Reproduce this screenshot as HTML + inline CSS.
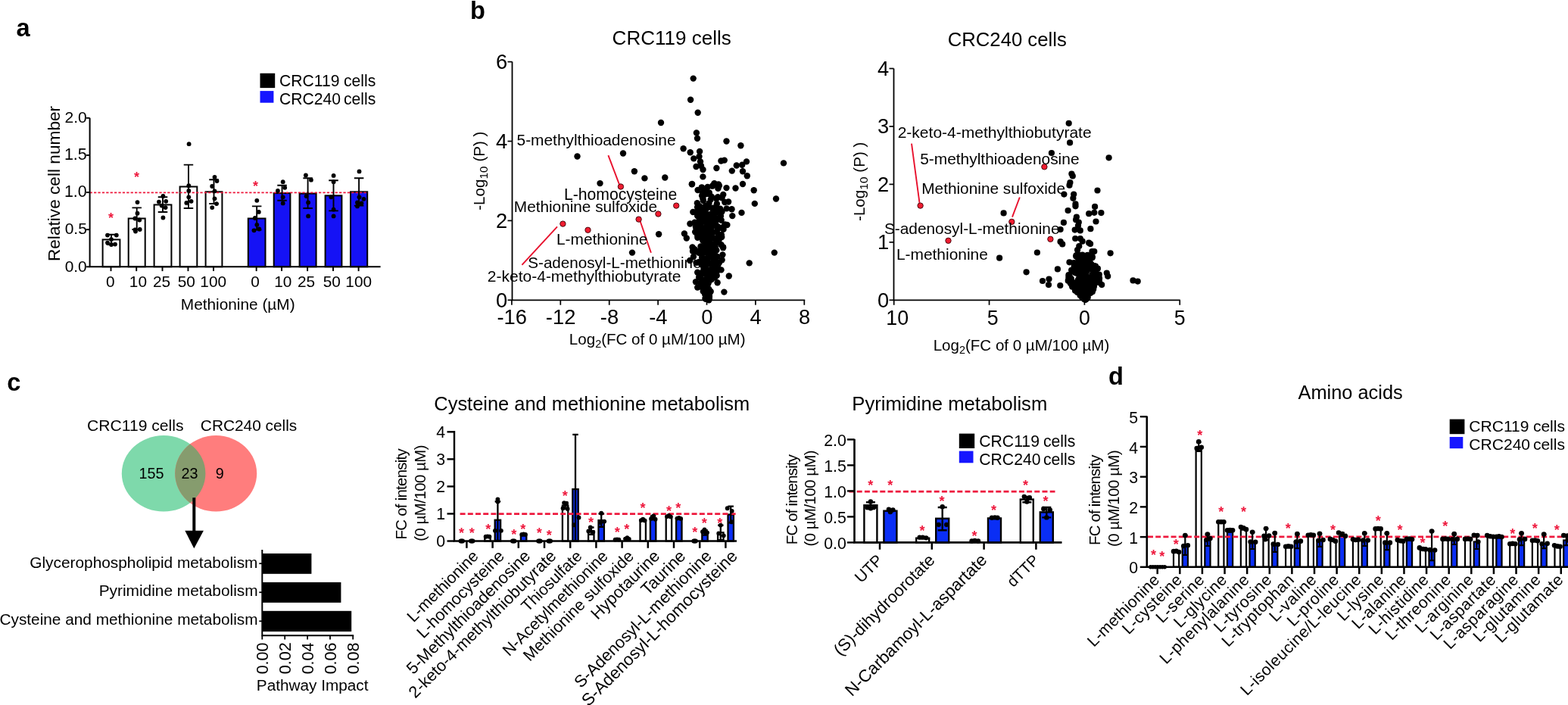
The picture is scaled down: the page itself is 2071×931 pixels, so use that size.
<!DOCTYPE html>
<html lang="en">
<head>
<meta charset="utf-8">
<title>Methionine restriction figure</title>
<style>
html,body{margin:0;padding:0;background:#fff;}
body{width:2071px;height:931px;overflow:hidden;}
svg{display:block;font-family:"Liberation Sans",Arial,Helvetica,sans-serif;}
</style>
</head>
<body>
<svg width="2071" height="931" viewBox="0 0 2071 931">
<rect width="2071" height="931" fill="#fff"/>
<text x="21.62" y="47.9" font-size="32.6" font-weight="bold">a</text>
<text x="620.88" y="24.6" font-size="32.6" font-weight="bold">b</text>
<text x="9.3" y="515.8" font-size="32.6" font-weight="bold">c</text>
<text x="1463.9" y="508.3" font-size="32.6" font-weight="bold">d</text>
<rect x="135.6" y="316.4" width="22.8" height="35.9" fill="#fff" stroke="#000" stroke-width="2"/>
<rect x="169.7" y="288.5" width="22" height="63.8" fill="#fff" stroke="#000" stroke-width="2"/>
<rect x="203.6" y="270.4" width="22.8" height="81.9" fill="#fff" stroke="#000" stroke-width="2"/>
<rect x="237.6" y="246.5" width="22.7" height="105.8" fill="#fff" stroke="#000" stroke-width="2"/>
<rect x="271.6" y="253.3" width="21.8" height="99" fill="#fff" stroke="#000" stroke-width="2"/>
<rect x="327.8" y="288.5" width="22.7" height="63.8" fill="#1512f5" stroke="#000" stroke-width="2"/>
<rect x="361.7" y="255.1" width="21.7" height="97.2" fill="#1512f5" stroke="#000" stroke-width="2"/>
<rect x="395.6" y="255.6" width="22" height="96.7" fill="#1512f5" stroke="#000" stroke-width="2"/>
<rect x="429.6" y="258.3" width="21.8" height="94" fill="#1512f5" stroke="#000" stroke-width="2"/>
<rect x="463" y="253.3" width="22.2" height="99" fill="#1512f5" stroke="#000" stroke-width="2"/>
<line x1="118.6" y1="254.4" x2="486" y2="254.4" stroke="#ee1a3e" stroke-width="1.9" stroke-dasharray="3.3 2.1"/>
<path d="M147 309.8V323M140.75 309.8H153.25M140.75 323H153.25" stroke="#000" stroke-width="1.9" fill="none"/>
<circle cx="142" cy="310.6" r="2.9" fill="#000"/>
<circle cx="153.8" cy="310.6" r="2.9" fill="#000"/>
<circle cx="147" cy="316.1" r="2.9" fill="#000"/>
<circle cx="142" cy="320.6" r="2.9" fill="#000"/>
<circle cx="152" cy="322.6" r="2.9" fill="#000"/>
<circle cx="147" cy="323" r="2.9" fill="#000"/>
<path d="M180.7 274.4V303M174.45 274.4H186.95M174.45 303H186.95" stroke="#000" stroke-width="1.9" fill="none"/>
<circle cx="181.5" cy="267.1" r="2.9" fill="#000"/>
<circle cx="181.5" cy="281.7" r="2.9" fill="#000"/>
<circle cx="178.4" cy="288.5" r="2.9" fill="#000"/>
<circle cx="184.2" cy="290.5" r="2.9" fill="#000"/>
<circle cx="178.4" cy="303.5" r="2.9" fill="#000"/>
<circle cx="184.7" cy="303" r="2.9" fill="#000"/>
<circle cx="179" cy="305.6" r="2.9" fill="#000"/>
<path d="M215 260.3V280M208.75 260.3H221.25M208.75 280H221.25" stroke="#000" stroke-width="1.9" fill="none"/>
<circle cx="215.4" cy="259" r="2.9" fill="#000"/>
<circle cx="209.9" cy="266.6" r="2.9" fill="#000"/>
<circle cx="219.2" cy="265.8" r="2.9" fill="#000"/>
<circle cx="213.6" cy="271.6" r="2.9" fill="#000"/>
<circle cx="218.6" cy="274.1" r="2.9" fill="#000"/>
<circle cx="215.4" cy="287.5" r="2.9" fill="#000"/>
<path d="M248.95 217.6V275M242.7 217.6H255.2M242.7 275H255.2" stroke="#000" stroke-width="1.9" fill="none"/>
<circle cx="249.6" cy="190.2" r="2.9" fill="#000"/>
<circle cx="249.3" cy="245.2" r="2.9" fill="#000"/>
<circle cx="249.3" cy="252" r="2.9" fill="#000"/>
<circle cx="249.3" cy="260.3" r="2.9" fill="#000"/>
<circle cx="246.3" cy="267.9" r="2.9" fill="#000"/>
<circle cx="252.6" cy="265.8" r="2.9" fill="#000"/>
<path d="M282.5 237.2V269M276.25 237.2H288.75M276.25 269H288.75" stroke="#000" stroke-width="1.9" fill="none"/>
<circle cx="283.5" cy="233.9" r="2.9" fill="#000"/>
<circle cx="286.5" cy="239" r="2.9" fill="#000"/>
<circle cx="280.2" cy="246" r="2.9" fill="#000"/>
<circle cx="283.5" cy="252.3" r="2.9" fill="#000"/>
<circle cx="283.5" cy="262.3" r="2.9" fill="#000"/>
<circle cx="286" cy="269.1" r="2.9" fill="#000"/>
<circle cx="280.2" cy="274.1" r="2.9" fill="#000"/>
<path d="M339.15 272.4V303.5M332.9 272.4H345.4M332.9 303.5H345.4" stroke="#000" stroke-width="1.9" fill="none"/>
<circle cx="339.3" cy="264.8" r="2.9" fill="#000"/>
<circle cx="341.8" cy="279.9" r="2.9" fill="#000"/>
<circle cx="336.8" cy="288" r="2.9" fill="#000"/>
<circle cx="339.3" cy="296.8" r="2.9" fill="#000"/>
<circle cx="335.5" cy="304.3" r="2.9" fill="#000"/>
<circle cx="342.3" cy="302.5" r="2.9" fill="#000"/>
<path d="M372.55 244.7V264.8M366.3 244.7H378.8M366.3 264.8H378.8" stroke="#000" stroke-width="1.9" fill="none"/>
<circle cx="373.7" cy="240.2" r="2.9" fill="#000"/>
<circle cx="376.2" cy="247.8" r="2.9" fill="#000"/>
<circle cx="366.9" cy="252" r="2.9" fill="#000"/>
<circle cx="373.7" cy="260.3" r="2.9" fill="#000"/>
<circle cx="373.7" cy="268.4" r="2.9" fill="#000"/>
<path d="M406.6 235.2V275M400.35 235.2H412.85M400.35 275H412.85" stroke="#000" stroke-width="1.9" fill="none"/>
<circle cx="403.9" cy="231.4" r="2.9" fill="#000"/>
<circle cx="410.9" cy="237.7" r="2.9" fill="#000"/>
<circle cx="404.6" cy="259.1" r="2.9" fill="#000"/>
<circle cx="407.1" cy="267.4" r="2.9" fill="#000"/>
<circle cx="407.1" cy="285.4" r="2.9" fill="#000"/>
<path d="M440.5 238.2V278.4M434.25 238.2H446.75M434.25 278.4H446.75" stroke="#000" stroke-width="1.9" fill="none"/>
<circle cx="440.6" cy="231.9" r="2.9" fill="#000"/>
<circle cx="440.6" cy="240.2" r="2.9" fill="#000"/>
<circle cx="437.3" cy="260.3" r="2.9" fill="#000"/>
<circle cx="440.6" cy="276.7" r="2.9" fill="#000"/>
<circle cx="440.6" cy="285.4" r="2.9" fill="#000"/>
<path d="M474.1 235.2V271.6M467.85 235.2H480.35M467.85 271.6H480.35" stroke="#000" stroke-width="1.9" fill="none"/>
<circle cx="474.5" cy="226.4" r="2.9" fill="#000"/>
<circle cx="474.5" cy="260.3" r="2.9" fill="#000"/>
<circle cx="480.5" cy="262.8" r="2.9" fill="#000"/>
<circle cx="472" cy="267.4" r="2.9" fill="#000"/>
<circle cx="477.5" cy="268.4" r="2.9" fill="#000"/>
<circle cx="472" cy="272.4" r="2.9" fill="#000"/>
<path d="M118.6 155.8V352.3H502.6" stroke="#000" stroke-width="2" fill="none" stroke-linejoin="miter"/>
<line x1="114" y1="352.3" x2="118.6" y2="352.3" stroke="#000" stroke-width="1.9"/>
<text x="85.66" y="358.6" font-size="20.91">0.0</text>
<line x1="114" y1="303.18" x2="118.6" y2="303.18" stroke="#000" stroke-width="1.9"/>
<text x="85.66" y="309.48" font-size="20.99">0.5</text>
<line x1="114" y1="254.05" x2="118.6" y2="254.05" stroke="#000" stroke-width="1.9"/>
<text x="84.89" y="260.35" font-size="21.48">1.0</text>
<line x1="114" y1="204.93" x2="118.6" y2="204.93" stroke="#000" stroke-width="1.9"/>
<text x="84.88" y="211.23" font-size="21.57">1.5</text>
<line x1="114" y1="155.8" x2="118.6" y2="155.8" stroke="#000" stroke-width="1.9"/>
<text x="85.45" y="162.1" font-size="21.07">2.0</text>
<line x1="146.5" y1="352.3" x2="146.5" y2="358.1" stroke="#000" stroke-width="1.9"/>
<text x="139.98" y="378.8" font-size="20.8">0</text>
<line x1="180.2" y1="352.3" x2="180.2" y2="358.1" stroke="#000" stroke-width="1.9"/>
<text x="170.84" y="378.8" font-size="20.8">10</text>
<line x1="214.5" y1="352.3" x2="214.5" y2="358.1" stroke="#000" stroke-width="1.9"/>
<text x="201.95" y="378.8" font-size="20.8">25</text>
<line x1="248.45" y1="352.3" x2="248.45" y2="358.1" stroke="#000" stroke-width="1.9"/>
<text x="234.7" y="378.8" font-size="20.8">50</text>
<line x1="282" y1="352.3" x2="282" y2="358.1" stroke="#000" stroke-width="1.9"/>
<text x="264.37" y="378.8" font-size="20.8">100</text>
<line x1="338.65" y1="352.3" x2="338.65" y2="358.1" stroke="#000" stroke-width="1.9"/>
<text x="331.18" y="378.8" font-size="20.8">0</text>
<line x1="372.05" y1="352.3" x2="372.05" y2="358.1" stroke="#000" stroke-width="1.9"/>
<text x="362.24" y="378.8" font-size="20.8">10</text>
<line x1="406.1" y1="352.3" x2="406.1" y2="358.1" stroke="#000" stroke-width="1.9"/>
<text x="392.95" y="378.8" font-size="20.8">25</text>
<line x1="440" y1="352.3" x2="440" y2="358.1" stroke="#000" stroke-width="1.9"/>
<text x="426.7" y="378.8" font-size="20.8">50</text>
<line x1="473.6" y1="352.3" x2="473.6" y2="358.1" stroke="#000" stroke-width="1.9"/>
<text x="456.37" y="378.8" font-size="20.8">100</text>
<text x="238.83" y="409" font-size="20.82">Methionine (µM)</text>
<text font-size="22.67" transform="translate(79.2 345.11) rotate(-90)">Relative cell number</text>
<rect x="343.5" y="96.8" width="19.7" height="19.3" fill="#000"/>
<rect x="343.5" y="120.1" width="17.9" height="15.6" fill="#1616ff"/>
<text x="368.94" y="114.4" font-size="21.15" word-spacing="-0.35">CRC119 cells</text>
<text x="368.94" y="138.2" font-size="21.15" word-spacing="-1.93">CRC240 cells</text>
<text x="142.89" y="293.54" font-size="17.95" fill="#ee1a3e" font-weight="bold">*</text>
<text x="177.09" y="239.74" font-size="17.95" fill="#ee1a3e" font-weight="bold">*</text>
<text x="333.89" y="251.54" font-size="17.95" fill="#ee1a3e" font-weight="bold">*</text>
<text x="808.6" y="59" font-size="26.03">CRC119 cells</text>
<g fill="#000">
<circle cx="915.7" cy="103.6" r="4.2"/>
<circle cx="912.1" cy="131.8" r="4.2"/>
<circle cx="921.7" cy="148.7" r="4.2"/>
<circle cx="873" cy="162" r="4.2"/>
<circle cx="919.9" cy="175.4" r="4.2"/>
<circle cx="921" cy="182.7" r="4.2"/>
<circle cx="959.5" cy="186.5" r="4.2"/>
<circle cx="978.4" cy="192.3" r="4.2"/>
<circle cx="902.6" cy="196.3" r="4.2"/>
<circle cx="911.7" cy="201.2" r="4.2"/>
<circle cx="924.1" cy="200" r="4.2"/>
<circle cx="823" cy="202.5" r="4.2"/>
<circle cx="762.5" cy="206.5" r="4.2"/>
<circle cx="916.3" cy="209.4" r="4.2"/>
<circle cx="923.5" cy="206.7" r="4.2"/>
<circle cx="925" cy="213.5" r="4.2"/>
<circle cx="952.4" cy="212.5" r="4.2"/>
<circle cx="956.8" cy="211.6" r="4.2"/>
<circle cx="986" cy="213.4" r="4.2"/>
<circle cx="1035" cy="215.4" r="4.2"/>
<circle cx="972.8" cy="218.5" r="4.2"/>
<circle cx="980.2" cy="217.8" r="4.2"/>
<circle cx="919.5" cy="220" r="4.2"/>
<circle cx="926" cy="219" r="4.2"/>
<circle cx="928.5" cy="224" r="4.2"/>
<circle cx="946.4" cy="222" r="4.2"/>
<circle cx="966.8" cy="225.6" r="4.2"/>
<circle cx="981" cy="226.3" r="4.2"/>
<circle cx="986.8" cy="232.3" r="4.2"/>
<circle cx="837.9" cy="226.3" r="4.2"/>
<circle cx="851.4" cy="235.4" r="4.2"/>
<circle cx="878.3" cy="234.5" r="4.2"/>
<circle cx="928.4" cy="233.4" r="4.2"/>
<circle cx="792.5" cy="242.1" r="4.2"/>
<circle cx="914.1" cy="243" r="4.2"/>
<circle cx="943.5" cy="242.3" r="4.2"/>
<circle cx="949" cy="243.4" r="4.2"/>
<circle cx="959.5" cy="248.1" r="4.2"/>
<circle cx="971.5" cy="248.5" r="4.2"/>
<circle cx="981" cy="243" r="4.2"/>
<circle cx="995.7" cy="251.2" r="4.2"/>
<circle cx="1025" cy="262.5" r="4.2"/>
<circle cx="870.1" cy="309.2" r="4.2"/>
<circle cx="835" cy="333.6" r="4.2"/>
<circle cx="1022.8" cy="333.6" r="4.2"/>
<circle cx="989.7" cy="347.4" r="4.2"/>
<circle cx="962.8" cy="364.5" r="4.2"/>
<circle cx="956.4" cy="385.6" r="4.2"/>
<circle cx="919" cy="372.3" r="4.2"/>
<circle cx="921.2" cy="379.6" r="4.2"/>
<circle cx="911.2" cy="344" r="4.2"/>
<circle cx="903.9" cy="308.5" r="4.2"/>
<circle cx="906.8" cy="314.5" r="4.2"/>
<circle cx="996.8" cy="268.9" r="4.2"/>
<circle cx="979.5" cy="280.9" r="4.2"/>
<circle cx="967.3" cy="285.1" r="4.2"/>
<circle cx="957.3" cy="267" r="4.2"/>
<circle cx="962.1" cy="266.5" r="4.2"/>
<circle cx="959.7" cy="275.4" r="4.2"/>
<circle cx="966.5" cy="276.2" r="4.2"/>
<circle cx="911.4" cy="295.5" r="4.2"/>
<circle cx="917.5" cy="293.6" r="4.2"/>
<circle cx="915" cy="331.7" r="4.2"/>
<circle cx="950" cy="346.7" r="4.2"/>
<circle cx="952.5" cy="356.4" r="4.2"/>
<circle cx="947.6" cy="373.3" r="4.2"/>
<circle cx="913.8" cy="243.3" r="4.2"/>
<circle cx="925.47" cy="325.52" r="4.2"/>
<circle cx="941.22" cy="307.02" r="4.2"/>
<circle cx="951.24" cy="275.77" r="4.2"/>
<circle cx="948.24" cy="350.18" r="4.2"/>
<circle cx="936.42" cy="389.93" r="4.2"/>
<circle cx="930.49" cy="249.66" r="4.2"/>
<circle cx="931.44" cy="394.02" r="4.2"/>
<circle cx="934.53" cy="387.25" r="4.2"/>
<circle cx="942.04" cy="325.78" r="4.2"/>
<circle cx="920.9" cy="268.25" r="4.2"/>
<circle cx="933.49" cy="295.61" r="4.2"/>
<circle cx="936.43" cy="268.59" r="4.2"/>
<circle cx="934.62" cy="348.38" r="4.2"/>
<circle cx="947.69" cy="279.82" r="4.2"/>
<circle cx="936.34" cy="396.22" r="4.2"/>
<circle cx="939.22" cy="335.89" r="4.2"/>
<circle cx="937.27" cy="300.62" r="4.2"/>
<circle cx="926.59" cy="345.75" r="4.2"/>
<circle cx="944.07" cy="281.08" r="4.2"/>
<circle cx="935.33" cy="387.2" r="4.2"/>
<circle cx="927.61" cy="369.29" r="4.2"/>
<circle cx="931" cy="285.05" r="4.2"/>
<circle cx="946.01" cy="298.46" r="4.2"/>
<circle cx="939.75" cy="355.29" r="4.2"/>
<circle cx="928.42" cy="274.18" r="4.2"/>
<circle cx="954.4" cy="336.37" r="4.2"/>
<circle cx="946.71" cy="363.89" r="4.2"/>
<circle cx="931.52" cy="278.85" r="4.2"/>
<circle cx="936.76" cy="382.6" r="4.2"/>
<circle cx="927.87" cy="359.36" r="4.2"/>
<circle cx="932.41" cy="250.51" r="4.2"/>
<circle cx="940.37" cy="308.97" r="4.2"/>
<circle cx="938.62" cy="358.38" r="4.2"/>
<circle cx="944.22" cy="366.42" r="4.2"/>
<circle cx="928.36" cy="262.21" r="4.2"/>
<circle cx="932" cy="390.42" r="4.2"/>
<circle cx="932.02" cy="360.06" r="4.2"/>
<circle cx="926.41" cy="305.64" r="4.2"/>
<circle cx="933.19" cy="369.63" r="4.2"/>
<circle cx="930.62" cy="311.28" r="4.2"/>
<circle cx="930.22" cy="302.93" r="4.2"/>
<circle cx="930.94" cy="355.38" r="4.2"/>
<circle cx="934.82" cy="340.24" r="4.2"/>
<circle cx="926.99" cy="376.3" r="4.2"/>
<circle cx="957.54" cy="296.45" r="4.2"/>
<circle cx="937.22" cy="307.47" r="4.2"/>
<circle cx="938.87" cy="285.26" r="4.2"/>
<circle cx="944.43" cy="289.34" r="4.2"/>
<circle cx="928.87" cy="265.05" r="4.2"/>
<circle cx="923.53" cy="301.31" r="4.2"/>
<circle cx="937.16" cy="384.11" r="4.2"/>
<circle cx="949.85" cy="245.32" r="4.2"/>
<circle cx="921.83" cy="284.57" r="4.2"/>
<circle cx="936.41" cy="329.34" r="4.2"/>
<circle cx="932.79" cy="391.77" r="4.2"/>
<circle cx="936.49" cy="323.19" r="4.2"/>
<circle cx="955.53" cy="302.9" r="4.2"/>
<circle cx="940.73" cy="357.41" r="4.2"/>
<circle cx="934.03" cy="365.51" r="4.2"/>
<circle cx="925.46" cy="346.6" r="4.2"/>
<circle cx="923.12" cy="366.13" r="4.2"/>
<circle cx="946.32" cy="262.5" r="4.2"/>
<circle cx="932.47" cy="307.67" r="4.2"/>
<circle cx="946.97" cy="288.19" r="4.2"/>
<circle cx="931.48" cy="327.8" r="4.2"/>
<circle cx="925.51" cy="363.76" r="4.2"/>
<circle cx="940.59" cy="348.36" r="4.2"/>
<circle cx="934.59" cy="247.03" r="4.2"/>
<circle cx="938.62" cy="263.63" r="4.2"/>
<circle cx="925.9" cy="288.59" r="4.2"/>
<circle cx="932.86" cy="393.39" r="4.2"/>
<circle cx="955.1" cy="327.17" r="4.2"/>
<circle cx="935.22" cy="374.89" r="4.2"/>
<circle cx="919.22" cy="300.66" r="4.2"/>
<circle cx="940.78" cy="292.26" r="4.2"/>
<circle cx="935.72" cy="394.66" r="4.2"/>
<circle cx="940.96" cy="287.75" r="4.2"/>
<circle cx="946.09" cy="290.31" r="4.2"/>
<circle cx="935.78" cy="302.9" r="4.2"/>
<circle cx="927.12" cy="258.55" r="4.2"/>
<circle cx="936.78" cy="254.54" r="4.2"/>
<circle cx="929.06" cy="301.22" r="4.2"/>
<circle cx="915.94" cy="339.03" r="4.2"/>
<circle cx="929.33" cy="252.77" r="4.2"/>
<circle cx="941.64" cy="297.3" r="4.2"/>
<circle cx="956.22" cy="298.77" r="4.2"/>
<circle cx="925.22" cy="276.1" r="4.2"/>
<circle cx="953.58" cy="343.33" r="4.2"/>
<circle cx="917.47" cy="329.28" r="4.2"/>
<circle cx="932.4" cy="391.98" r="4.2"/>
<circle cx="934.27" cy="386.56" r="4.2"/>
<circle cx="929.45" cy="276.54" r="4.2"/>
<circle cx="925.24" cy="373.7" r="4.2"/>
<circle cx="933.71" cy="291.52" r="4.2"/>
<circle cx="939.08" cy="321.43" r="4.2"/>
<circle cx="933.13" cy="316.25" r="4.2"/>
<circle cx="925.92" cy="285.52" r="4.2"/>
<circle cx="924.23" cy="311.18" r="4.2"/>
<circle cx="946.26" cy="338.36" r="4.2"/>
<circle cx="927.96" cy="316.62" r="4.2"/>
<circle cx="931.22" cy="319.82" r="4.2"/>
<circle cx="936.51" cy="392.08" r="4.2"/>
<circle cx="933.93" cy="274.54" r="4.2"/>
<circle cx="932.9" cy="321.66" r="4.2"/>
<circle cx="930.35" cy="333.41" r="4.2"/>
<circle cx="936.24" cy="255.94" r="4.2"/>
<circle cx="946.34" cy="330.38" r="4.2"/>
<circle cx="928.4" cy="259.42" r="4.2"/>
<circle cx="936.99" cy="302.38" r="4.2"/>
<circle cx="933.81" cy="376.62" r="4.2"/>
<circle cx="932.12" cy="361.76" r="4.2"/>
<circle cx="926.01" cy="347.34" r="4.2"/>
<circle cx="951.89" cy="285.2" r="4.2"/>
<circle cx="934.45" cy="318.71" r="4.2"/>
<circle cx="941.29" cy="329.91" r="4.2"/>
<circle cx="928.03" cy="333.46" r="4.2"/>
<circle cx="934.08" cy="300.34" r="4.2"/>
<circle cx="944.59" cy="315.8" r="4.2"/>
<circle cx="925.68" cy="360.94" r="4.2"/>
<circle cx="946.04" cy="273.1" r="4.2"/>
<circle cx="932.55" cy="256.04" r="4.2"/>
<circle cx="942.21" cy="244.55" r="4.2"/>
<circle cx="931.56" cy="285.86" r="4.2"/>
<circle cx="935.92" cy="381.55" r="4.2"/>
<circle cx="929.3" cy="377.15" r="4.2"/>
<circle cx="945.14" cy="292.15" r="4.2"/>
<circle cx="926.05" cy="378.76" r="4.2"/>
<circle cx="935.04" cy="292.08" r="4.2"/>
<circle cx="934.41" cy="385.58" r="4.2"/>
<circle cx="936.57" cy="318.05" r="4.2"/>
<circle cx="935.14" cy="374.02" r="4.2"/>
<circle cx="944.76" cy="326.07" r="4.2"/>
<circle cx="923.09" cy="346.62" r="4.2"/>
<circle cx="938.4" cy="304.96" r="4.2"/>
<circle cx="940.94" cy="289.74" r="4.2"/>
<circle cx="929.44" cy="283.92" r="4.2"/>
<circle cx="937.82" cy="366.64" r="4.2"/>
<circle cx="948.82" cy="289.19" r="4.2"/>
<circle cx="922.36" cy="305.16" r="4.2"/>
<circle cx="926.92" cy="283.15" r="4.2"/>
<circle cx="952.69" cy="290.69" r="4.2"/>
<circle cx="919.78" cy="279.99" r="4.2"/>
<circle cx="942.53" cy="344.36" r="4.2"/>
<circle cx="932.03" cy="394.69" r="4.2"/>
<circle cx="942.43" cy="361.02" r="4.2"/>
<circle cx="926.01" cy="295.05" r="4.2"/>
<circle cx="949.95" cy="315.27" r="4.2"/>
<circle cx="926.84" cy="247.33" r="4.2"/>
<circle cx="934.63" cy="302.76" r="4.2"/>
<circle cx="931.42" cy="388.63" r="4.2"/>
<circle cx="940.04" cy="339.2" r="4.2"/>
<circle cx="940.26" cy="312.69" r="4.2"/>
<circle cx="918.91" cy="299.32" r="4.2"/>
<circle cx="928.73" cy="384.72" r="4.2"/>
<circle cx="927.95" cy="254.92" r="4.2"/>
<circle cx="940.74" cy="324.59" r="4.2"/>
<circle cx="937.04" cy="387.4" r="4.2"/>
<circle cx="920.59" cy="332.35" r="4.2"/>
<circle cx="931.71" cy="352.87" r="4.2"/>
<circle cx="931.07" cy="311.08" r="4.2"/>
<circle cx="936.8" cy="394.17" r="4.2"/>
<circle cx="936.29" cy="389.8" r="4.2"/>
<circle cx="933.01" cy="385.13" r="4.2"/>
<circle cx="936.67" cy="359.26" r="4.2"/>
<circle cx="923.81" cy="272.16" r="4.2"/>
<circle cx="930.09" cy="378.81" r="4.2"/>
<circle cx="931.36" cy="388.39" r="4.2"/>
<circle cx="927.09" cy="377.4" r="4.2"/>
<circle cx="938.09" cy="356.46" r="4.2"/>
<circle cx="936.13" cy="332.53" r="4.2"/>
<circle cx="946.38" cy="360.06" r="4.2"/>
<circle cx="953.8" cy="301.3" r="4.2"/>
<circle cx="929.48" cy="355.03" r="4.2"/>
<circle cx="920.98" cy="300.07" r="4.2"/>
<circle cx="933.72" cy="367.45" r="4.2"/>
<circle cx="935.67" cy="390.29" r="4.2"/>
<circle cx="939.28" cy="301.55" r="4.2"/>
<circle cx="939.43" cy="313.97" r="4.2"/>
<circle cx="937.11" cy="312.6" r="4.2"/>
<circle cx="927.18" cy="339.58" r="4.2"/>
<circle cx="937.56" cy="283.09" r="4.2"/>
<circle cx="938.68" cy="385" r="4.2"/>
<circle cx="953.5" cy="279.45" r="4.2"/>
<circle cx="932.9" cy="331.8" r="4.2"/>
<circle cx="960.4" cy="296.94" r="4.2"/>
<circle cx="919.53" cy="346.84" r="4.2"/>
<circle cx="928.87" cy="331.3" r="4.2"/>
<circle cx="934.88" cy="381.55" r="4.2"/>
<circle cx="931.62" cy="310.54" r="4.2"/>
<circle cx="929.15" cy="292.13" r="4.2"/>
<circle cx="945.77" cy="363.88" r="4.2"/>
<circle cx="931.64" cy="383.88" r="4.2"/>
<circle cx="947.44" cy="353.3" r="4.2"/>
<circle cx="932.27" cy="341.91" r="4.2"/>
<circle cx="923.72" cy="288.49" r="4.2"/>
<circle cx="925.69" cy="329.73" r="4.2"/>
<circle cx="929.98" cy="349.98" r="4.2"/>
<circle cx="948.08" cy="260.3" r="4.2"/>
<circle cx="927.73" cy="341.32" r="4.2"/>
<circle cx="941.08" cy="337.39" r="4.2"/>
<circle cx="939.46" cy="310.6" r="4.2"/>
<circle cx="921.23" cy="310.76" r="4.2"/>
<circle cx="944.64" cy="280.94" r="4.2"/>
<circle cx="928.47" cy="317.92" r="4.2"/>
<circle cx="952.85" cy="310.05" r="4.2"/>
<circle cx="932.63" cy="386.56" r="4.2"/>
<circle cx="941.36" cy="276.51" r="4.2"/>
<circle cx="939.83" cy="259.64" r="4.2"/>
<circle cx="949.15" cy="299.91" r="4.2"/>
<circle cx="944.25" cy="358.99" r="4.2"/>
<circle cx="915.32" cy="279.97" r="4.2"/>
<circle cx="931.52" cy="344.95" r="4.2"/>
<circle cx="920.07" cy="294.1" r="4.2"/>
<circle cx="936.69" cy="288.66" r="4.2"/>
<circle cx="941.1" cy="333.89" r="4.2"/>
<circle cx="921.07" cy="273.8" r="4.2"/>
<circle cx="953.51" cy="261.23" r="4.2"/>
<circle cx="931.12" cy="288.37" r="4.2"/>
<circle cx="928.9" cy="332.22" r="4.2"/>
<circle cx="940.82" cy="245.67" r="4.2"/>
<circle cx="935.46" cy="370.82" r="4.2"/>
<circle cx="948.41" cy="248.9" r="4.2"/>
<circle cx="944.02" cy="349.42" r="4.2"/>
<circle cx="939.84" cy="369.03" r="4.2"/>
<circle cx="914.54" cy="326.57" r="4.2"/>
<circle cx="928.82" cy="379.78" r="4.2"/>
<circle cx="934.69" cy="363.26" r="4.2"/>
<circle cx="945.71" cy="362.26" r="4.2"/>
<circle cx="940.75" cy="353.58" r="4.2"/>
<circle cx="953.23" cy="312.97" r="4.2"/>
<circle cx="932.8" cy="323.42" r="4.2"/>
<circle cx="948.48" cy="313.1" r="4.2"/>
<circle cx="932.74" cy="388.74" r="4.2"/>
<circle cx="925.7" cy="274.48" r="4.2"/>
<circle cx="940.83" cy="354.57" r="4.2"/>
<circle cx="935.75" cy="296.35" r="4.2"/>
<circle cx="935.13" cy="339.82" r="4.2"/>
<circle cx="930.02" cy="287.88" r="4.2"/>
<circle cx="930.39" cy="347.39" r="4.2"/>
<circle cx="932.46" cy="355.79" r="4.2"/>
<circle cx="933.64" cy="373.4" r="4.2"/>
<circle cx="932.87" cy="383.77" r="4.2"/>
<circle cx="952.55" cy="323.32" r="4.2"/>
<circle cx="921.61" cy="251.06" r="4.2"/>
<circle cx="924.18" cy="276.32" r="4.2"/>
<circle cx="955.25" cy="256.95" r="4.2"/>
<circle cx="947.23" cy="313.71" r="4.2"/>
<circle cx="936.15" cy="372.35" r="4.2"/>
<circle cx="930.95" cy="384.74" r="4.2"/>
<circle cx="932.01" cy="325.28" r="4.2"/>
<circle cx="929.67" cy="380.23" r="4.2"/>
<circle cx="955.1" cy="326.11" r="4.2"/>
<circle cx="932.89" cy="394.42" r="4.2"/>
<circle cx="937.44" cy="288.38" r="4.2"/>
<circle cx="936.11" cy="394.71" r="4.2"/>
<circle cx="941.58" cy="274.78" r="4.2"/>
<circle cx="947.46" cy="339.15" r="4.2"/>
<circle cx="929.11" cy="350.97" r="4.2"/>
<circle cx="940.81" cy="357.32" r="4.2"/>
<circle cx="921.14" cy="285.12" r="4.2"/>
<circle cx="935.62" cy="345.89" r="4.2"/>
<circle cx="932.04" cy="381.95" r="4.2"/>
<circle cx="942.16" cy="288.64" r="4.2"/>
<circle cx="946.97" cy="306.2" r="4.2"/>
<circle cx="935.79" cy="361.86" r="4.2"/>
<circle cx="935.22" cy="385.25" r="4.2"/>
<circle cx="919.46" cy="331.39" r="4.2"/>
<circle cx="935.62" cy="271.49" r="4.2"/>
<circle cx="932.25" cy="345.93" r="4.2"/>
<circle cx="937.23" cy="289.92" r="4.2"/>
<circle cx="927.71" cy="276.27" r="4.2"/>
<circle cx="923.21" cy="345.99" r="4.2"/>
<circle cx="945.95" cy="297.39" r="4.2"/>
<circle cx="944.66" cy="276.44" r="4.2"/>
<circle cx="947.46" cy="303.36" r="4.2"/>
<circle cx="952.52" cy="312.97" r="4.2"/>
<circle cx="946.19" cy="320.24" r="4.2"/>
<circle cx="949.31" cy="317.86" r="4.2"/>
<circle cx="946.83" cy="269.3" r="4.2"/>
<circle cx="933.78" cy="383.65" r="4.2"/>
<circle cx="946.5" cy="346.26" r="4.2"/>
<circle cx="928.95" cy="341.4" r="4.2"/>
<circle cx="934.24" cy="375.69" r="4.2"/>
<circle cx="921.37" cy="313.7" r="4.2"/>
<circle cx="931.99" cy="272.04" r="4.2"/>
<circle cx="931.03" cy="352.44" r="4.2"/>
<circle cx="921.21" cy="359.69" r="4.2"/>
<circle cx="925.28" cy="313.03" r="4.2"/>
<circle cx="936.84" cy="391.43" r="4.2"/>
<circle cx="926.82" cy="349.54" r="4.2"/>
<circle cx="918.19" cy="306.33" r="4.2"/>
<circle cx="934.35" cy="393.81" r="4.2"/>
<circle cx="944.83" cy="337.57" r="4.2"/>
<circle cx="929.09" cy="369.9" r="4.2"/>
<circle cx="932.73" cy="345.82" r="4.2"/>
<circle cx="932.93" cy="390.54" r="4.2"/>
<circle cx="929.34" cy="305.09" r="4.2"/>
<circle cx="923.02" cy="333.76" r="4.2"/>
<circle cx="922.66" cy="282.04" r="4.2"/>
<circle cx="917.08" cy="330.34" r="4.2"/>
</g>
<line x1="803.4" y1="205.2" x2="817.9" y2="243.4" stroke="#e8112d" stroke-width="1.9"/>
<line x1="736" y1="299.4" x2="689.4" y2="349.8" stroke="#e8112d" stroke-width="1.9"/>
<line x1="845.6" y1="292.3" x2="859.9" y2="333.8" stroke="#e8112d" stroke-width="1.9"/>
<circle cx="819.9" cy="246.5" r="3.7" fill="#f01c30" stroke="#4a0a10" stroke-width="1"/>
<circle cx="743.4" cy="295.6" r="3.7" fill="#f01c30" stroke="#4a0a10" stroke-width="1"/>
<circle cx="776.5" cy="303.8" r="3.7" fill="#f01c30" stroke="#4a0a10" stroke-width="1"/>
<circle cx="843.6" cy="289.6" r="3.7" fill="#f01c30" stroke="#4a0a10" stroke-width="1"/>
<circle cx="869.4" cy="282.5" r="3.7" fill="#f01c30" stroke="#4a0a10" stroke-width="1"/>
<circle cx="893.2" cy="271.6" r="3.7" fill="#f01c30" stroke="#4a0a10" stroke-width="1"/>
<path d="M676.5 81.6V396.3H1063.2" stroke="#000" stroke-width="1.8" fill="none" stroke-linejoin="miter"/>
<line x1="675.9" y1="396.3" x2="675.9" y2="402.8" stroke="#000" stroke-width="1.7"/>
<text x="676.2" y="428.4" font-size="27.3" text-anchor="middle">-16</text>
<line x1="740.3" y1="396.3" x2="740.3" y2="402.8" stroke="#000" stroke-width="1.7"/>
<text x="740.6" y="428.4" font-size="27.3" text-anchor="middle">-12</text>
<line x1="804.7" y1="396.3" x2="804.7" y2="402.8" stroke="#000" stroke-width="1.7"/>
<text x="805" y="428.4" font-size="27.3" text-anchor="middle">-8</text>
<line x1="869.1" y1="396.3" x2="869.1" y2="402.8" stroke="#000" stroke-width="1.7"/>
<text x="869.4" y="428.4" font-size="27.3" text-anchor="middle">-4</text>
<line x1="933.5" y1="396.3" x2="933.5" y2="402.8" stroke="#000" stroke-width="1.7"/>
<text x="933.8" y="428.4" font-size="27.3" text-anchor="middle">0</text>
<line x1="997.9" y1="396.3" x2="997.9" y2="402.8" stroke="#000" stroke-width="1.7"/>
<text x="998.2" y="428.4" font-size="27.3" text-anchor="middle">4</text>
<line x1="1062.3" y1="396.3" x2="1062.3" y2="402.8" stroke="#000" stroke-width="1.7"/>
<text x="1062.6" y="428.4" font-size="27.3" text-anchor="middle">8</text>
<line x1="670.5" y1="396.3" x2="676.5" y2="396.3" stroke="#000" stroke-width="1.7"/>
<text x="670.3" y="405.8" font-size="27.3" text-anchor="end">0</text>
<line x1="670.5" y1="291.4" x2="676.5" y2="291.4" stroke="#000" stroke-width="1.7"/>
<text x="670.3" y="300.9" font-size="27.3" text-anchor="end">2</text>
<line x1="670.5" y1="186.5" x2="676.5" y2="186.5" stroke="#000" stroke-width="1.7"/>
<text x="670.3" y="196" font-size="27.3" text-anchor="end">4</text>
<line x1="670.5" y1="81.6" x2="676.5" y2="81.6" stroke="#000" stroke-width="1.7"/>
<text x="670.3" y="91.1" font-size="27.3" text-anchor="end">6</text>
<text x="682.56" y="192.3" font-size="20.88">5-methylthioadenosine</text>
<text x="745.01" y="264" font-size="21.15">L-homocysteine</text>
<text x="678.84" y="280" font-size="20.77">Methionine sulfoxide</text>
<text x="735.03" y="323" font-size="20.83">L-methionine</text>
<text x="697.27" y="353.8" font-size="20.63">S-adenosyl-L-methionine</text>
<text x="643.85" y="371.9" font-size="21.01">2-keto-4-methylthiobutyrate</text>
<text x="751.86" y="455" font-size="20.55">Log<tspan font-size="14.39" dy="4.11">2</tspan><tspan dy="-4.11">(FC of 0 µM/100 µM)</tspan></text>
<text transform="translate(639.8 277.8) rotate(-90)" font-size="20.61">-Log<tspan font-size="15.46" dy="4.12">10</tspan><tspan dy="-4.12"> (P) )</tspan></text>
<text x="1251.71" y="60.5" font-size="25.7">CRC240 cells</text>
<g fill="#000">
<circle cx="1411.7" cy="162.8" r="4.1"/>
<circle cx="1413.1" cy="188.4" r="4.1"/>
<circle cx="1388.9" cy="202" r="4.1"/>
<circle cx="1464.6" cy="208.3" r="4.1"/>
<circle cx="1415.4" cy="229.6" r="4.1"/>
<circle cx="1416.8" cy="232.5" r="4.1"/>
<circle cx="1413.4" cy="241" r="4.1"/>
<circle cx="1412.5" cy="244.7" r="4.1"/>
<circle cx="1449.5" cy="251.5" r="4.1"/>
<circle cx="1405.4" cy="256.6" r="4.1"/>
<circle cx="1418.2" cy="256.6" r="4.1"/>
<circle cx="1417.4" cy="261.8" r="4.1"/>
<circle cx="1420.5" cy="269.4" r="4.1"/>
<circle cx="1420.5" cy="272.3" r="4.1"/>
<circle cx="1446.1" cy="272.9" r="4.1"/>
<circle cx="1410.6" cy="278" r="4.1"/>
<circle cx="1438.2" cy="282.2" r="4.1"/>
<circle cx="1445.3" cy="280.8" r="4.1"/>
<circle cx="1454.4" cy="281.1" r="4.1"/>
<circle cx="1421.9" cy="286.5" r="4.1"/>
<circle cx="1421.1" cy="290.2" r="4.1"/>
<circle cx="1447.5" cy="292.5" r="4.1"/>
<circle cx="1404.9" cy="293.9" r="4.1"/>
<circle cx="1424.8" cy="293.6" r="4.1"/>
<circle cx="1424" cy="298" r="4.1"/>
<circle cx="1440.4" cy="302.2" r="4.1"/>
<circle cx="1400.6" cy="303" r="4.1"/>
<circle cx="1419.7" cy="303.6" r="4.1"/>
<circle cx="1426.8" cy="304.4" r="4.1"/>
<circle cx="1420.2" cy="315" r="4.1"/>
<circle cx="1426.8" cy="315" r="4.1"/>
<circle cx="1429.6" cy="318.7" r="4.1"/>
<circle cx="1400.6" cy="319.2" r="4.1"/>
<circle cx="1403.2" cy="322.4" r="4.1"/>
<circle cx="1438.2" cy="320.7" r="4.1"/>
<circle cx="1440.1" cy="322.1" r="4.1"/>
<circle cx="1425.3" cy="325" r="4.1"/>
<circle cx="1423.1" cy="330" r="4.1"/>
<circle cx="1442.4" cy="332" r="4.1"/>
<circle cx="1445.3" cy="332" r="4.1"/>
<circle cx="1466.6" cy="334.3" r="4.1"/>
<circle cx="1369.9" cy="333.5" r="4.1"/>
<circle cx="1412.5" cy="346.3" r="4.1"/>
<circle cx="1396.9" cy="355.4" r="4.1"/>
<circle cx="1355.6" cy="359.3" r="4.1"/>
<circle cx="1377" cy="371" r="4.1"/>
<circle cx="1385.5" cy="368.5" r="4.1"/>
<circle cx="1385" cy="376.1" r="4.1"/>
<circle cx="1400.3" cy="377" r="4.1"/>
<circle cx="1455.2" cy="376.1" r="4.1"/>
<circle cx="1461.8" cy="360.5" r="4.1"/>
<circle cx="1463.2" cy="364.8" r="4.1"/>
<circle cx="1451.8" cy="362.5" r="4.1"/>
<circle cx="1496.5" cy="370.4" r="4.1"/>
<circle cx="1502.7" cy="371.6" r="4.1"/>
<circle cx="1325.6" cy="281.4" r="4.1"/>
<circle cx="1320.1" cy="340.7" r="4.1"/>
<circle cx="1418.41" cy="358.63" r="4.1"/>
<circle cx="1447.01" cy="351.61" r="4.1"/>
<circle cx="1425.2" cy="339.4" r="4.1"/>
<circle cx="1428.02" cy="367.86" r="4.1"/>
<circle cx="1432.27" cy="395.21" r="4.1"/>
<circle cx="1430.17" cy="350.06" r="4.1"/>
<circle cx="1433.28" cy="358.95" r="4.1"/>
<circle cx="1429.91" cy="383.43" r="4.1"/>
<circle cx="1416.33" cy="378.64" r="4.1"/>
<circle cx="1420.03" cy="383.71" r="4.1"/>
<circle cx="1434.6" cy="342.38" r="4.1"/>
<circle cx="1432.14" cy="387.26" r="4.1"/>
<circle cx="1433.45" cy="395.8" r="4.1"/>
<circle cx="1437.68" cy="346.89" r="4.1"/>
<circle cx="1431.3" cy="353.72" r="4.1"/>
<circle cx="1445.21" cy="351.01" r="4.1"/>
<circle cx="1441.63" cy="374.03" r="4.1"/>
<circle cx="1442.85" cy="385.14" r="4.1"/>
<circle cx="1442.66" cy="340.22" r="4.1"/>
<circle cx="1447.03" cy="364.52" r="4.1"/>
<circle cx="1429.87" cy="390.53" r="4.1"/>
<circle cx="1415.15" cy="375.6" r="4.1"/>
<circle cx="1433.81" cy="376.99" r="4.1"/>
<circle cx="1449.92" cy="354.65" r="4.1"/>
<circle cx="1436.43" cy="336.8" r="4.1"/>
<circle cx="1447.47" cy="360.36" r="4.1"/>
<circle cx="1436.74" cy="392.66" r="4.1"/>
<circle cx="1446.16" cy="358.18" r="4.1"/>
<circle cx="1440.2" cy="387.05" r="4.1"/>
<circle cx="1423.76" cy="336.04" r="4.1"/>
<circle cx="1446.28" cy="366.71" r="4.1"/>
<circle cx="1433.71" cy="371.77" r="4.1"/>
<circle cx="1437.87" cy="338.41" r="4.1"/>
<circle cx="1430.36" cy="390.65" r="4.1"/>
<circle cx="1417.53" cy="374.32" r="4.1"/>
<circle cx="1445.16" cy="356.16" r="4.1"/>
<circle cx="1425.35" cy="379.15" r="4.1"/>
<circle cx="1416.47" cy="378.37" r="4.1"/>
<circle cx="1433.27" cy="395.31" r="4.1"/>
<circle cx="1414.83" cy="368.22" r="4.1"/>
<circle cx="1421" cy="375.13" r="4.1"/>
<circle cx="1416.62" cy="375" r="4.1"/>
<circle cx="1421.92" cy="337.43" r="4.1"/>
<circle cx="1422.94" cy="386.03" r="4.1"/>
<circle cx="1419.78" cy="354.51" r="4.1"/>
<circle cx="1423.82" cy="349.18" r="4.1"/>
<circle cx="1417.67" cy="358.58" r="4.1"/>
<circle cx="1432.2" cy="394.34" r="4.1"/>
<circle cx="1423.5" cy="382.86" r="4.1"/>
<circle cx="1435.19" cy="367.7" r="4.1"/>
<circle cx="1433.87" cy="376.96" r="4.1"/>
<circle cx="1425.28" cy="368.08" r="4.1"/>
<circle cx="1444.21" cy="381.73" r="4.1"/>
<circle cx="1436.98" cy="379.29" r="4.1"/>
<circle cx="1431.49" cy="373.57" r="4.1"/>
<circle cx="1426.46" cy="363.29" r="4.1"/>
<circle cx="1426.84" cy="346.89" r="4.1"/>
<circle cx="1430.09" cy="373.83" r="4.1"/>
<circle cx="1421.28" cy="338.57" r="4.1"/>
<circle cx="1431.8" cy="342.39" r="4.1"/>
<circle cx="1430.11" cy="359.09" r="4.1"/>
<circle cx="1438.76" cy="373.45" r="4.1"/>
<circle cx="1428.12" cy="360.25" r="4.1"/>
<circle cx="1426.63" cy="371.07" r="4.1"/>
<circle cx="1438.19" cy="378.82" r="4.1"/>
<circle cx="1427.02" cy="369.39" r="4.1"/>
<circle cx="1433.26" cy="395.21" r="4.1"/>
<circle cx="1434.51" cy="349.09" r="4.1"/>
<circle cx="1429.62" cy="336.67" r="4.1"/>
<circle cx="1421.62" cy="357.31" r="4.1"/>
<circle cx="1428.18" cy="350.38" r="4.1"/>
<circle cx="1439.29" cy="378.19" r="4.1"/>
<circle cx="1440.44" cy="351.3" r="4.1"/>
<circle cx="1412.1" cy="368.66" r="4.1"/>
<circle cx="1434.2" cy="395.13" r="4.1"/>
<circle cx="1441.77" cy="353.51" r="4.1"/>
<circle cx="1425.51" cy="372.87" r="4.1"/>
<circle cx="1444.91" cy="378.21" r="4.1"/>
<circle cx="1438.13" cy="354.32" r="4.1"/>
<circle cx="1432.87" cy="341.36" r="4.1"/>
<circle cx="1437.15" cy="366.14" r="4.1"/>
<circle cx="1441.04" cy="348.49" r="4.1"/>
<circle cx="1421.45" cy="337.28" r="4.1"/>
<circle cx="1433.23" cy="353.25" r="4.1"/>
<circle cx="1437.41" cy="387.02" r="4.1"/>
<circle cx="1432.19" cy="358.66" r="4.1"/>
<circle cx="1431.62" cy="391.68" r="4.1"/>
<circle cx="1432.86" cy="343.29" r="4.1"/>
<circle cx="1423.69" cy="359.99" r="4.1"/>
<circle cx="1435.31" cy="392.65" r="4.1"/>
<circle cx="1412.94" cy="365.65" r="4.1"/>
<circle cx="1439.01" cy="380.21" r="4.1"/>
<circle cx="1433.5" cy="364.98" r="4.1"/>
<circle cx="1429.83" cy="351.79" r="4.1"/>
<circle cx="1436.09" cy="390.89" r="4.1"/>
<circle cx="1428.48" cy="360.36" r="4.1"/>
<circle cx="1445.1" cy="376.6" r="4.1"/>
<circle cx="1431.29" cy="392.78" r="4.1"/>
<circle cx="1430.89" cy="382.61" r="4.1"/>
<circle cx="1430.55" cy="346.76" r="4.1"/>
<circle cx="1428.26" cy="381.9" r="4.1"/>
<circle cx="1430.12" cy="372.86" r="4.1"/>
<circle cx="1426.5" cy="347.73" r="4.1"/>
<circle cx="1421.87" cy="360.44" r="4.1"/>
<circle cx="1431.91" cy="390.18" r="4.1"/>
<circle cx="1426.68" cy="342.64" r="4.1"/>
<circle cx="1413.01" cy="367.79" r="4.1"/>
<circle cx="1433.02" cy="368.07" r="4.1"/>
<circle cx="1425.77" cy="373.52" r="4.1"/>
<circle cx="1434.77" cy="380.76" r="4.1"/>
<circle cx="1437.41" cy="381.89" r="4.1"/>
<circle cx="1413.71" cy="373.86" r="4.1"/>
<circle cx="1452.05" cy="367.7" r="4.1"/>
<circle cx="1421.82" cy="378.53" r="4.1"/>
<circle cx="1431.92" cy="383.94" r="4.1"/>
<circle cx="1452.06" cy="371.94" r="4.1"/>
<circle cx="1427.3" cy="367.92" r="4.1"/>
<circle cx="1429.95" cy="386.2" r="4.1"/>
<circle cx="1425.13" cy="357.25" r="4.1"/>
<circle cx="1436.04" cy="392.35" r="4.1"/>
<circle cx="1411.49" cy="363.1" r="4.1"/>
<circle cx="1431.52" cy="390.37" r="4.1"/>
<circle cx="1432.1" cy="339.86" r="4.1"/>
<circle cx="1432.42" cy="372.16" r="4.1"/>
<circle cx="1432.21" cy="377.64" r="4.1"/>
<circle cx="1436.8" cy="385.24" r="4.1"/>
<circle cx="1433.46" cy="390.94" r="4.1"/>
<circle cx="1425.53" cy="340.72" r="4.1"/>
<circle cx="1433.39" cy="394.96" r="4.1"/>
<circle cx="1420.73" cy="373.4" r="4.1"/>
<circle cx="1425.54" cy="377.54" r="4.1"/>
<circle cx="1433.84" cy="389.06" r="4.1"/>
<circle cx="1435.23" cy="346.83" r="4.1"/>
<circle cx="1432.45" cy="381.31" r="4.1"/>
<circle cx="1431.36" cy="381.28" r="4.1"/>
<circle cx="1434.41" cy="384.01" r="4.1"/>
<circle cx="1426.69" cy="370.77" r="4.1"/>
<circle cx="1424.38" cy="342.23" r="4.1"/>
<circle cx="1414.59" cy="369.47" r="4.1"/>
<circle cx="1442.8" cy="352.32" r="4.1"/>
<circle cx="1433.38" cy="373.06" r="4.1"/>
<circle cx="1441.07" cy="380.24" r="4.1"/>
<circle cx="1439.59" cy="350.17" r="4.1"/>
<circle cx="1429.17" cy="388.19" r="4.1"/>
<circle cx="1434.94" cy="359.28" r="4.1"/>
<circle cx="1431.73" cy="376.18" r="4.1"/>
<circle cx="1430.89" cy="352.39" r="4.1"/>
<circle cx="1425.36" cy="353.43" r="4.1"/>
<circle cx="1429.69" cy="388.91" r="4.1"/>
<circle cx="1423.78" cy="369.95" r="4.1"/>
<circle cx="1411.78" cy="364.04" r="4.1"/>
<circle cx="1433.95" cy="394.03" r="4.1"/>
<circle cx="1434.83" cy="372.44" r="4.1"/>
<circle cx="1426.18" cy="362.25" r="4.1"/>
<circle cx="1428.49" cy="374.89" r="4.1"/>
<circle cx="1439.39" cy="345.01" r="4.1"/>
<circle cx="1437.68" cy="346.1" r="4.1"/>
<circle cx="1426.63" cy="390.08" r="4.1"/>
<circle cx="1446.53" cy="358.61" r="4.1"/>
<circle cx="1442.65" cy="365.3" r="4.1"/>
<circle cx="1431.99" cy="376.97" r="4.1"/>
<circle cx="1445.75" cy="367.43" r="4.1"/>
<circle cx="1418.41" cy="347.07" r="4.1"/>
<circle cx="1447.47" cy="363.8" r="4.1"/>
<circle cx="1439.99" cy="355.23" r="4.1"/>
<circle cx="1429.82" cy="390.76" r="4.1"/>
<circle cx="1427.8" cy="353.13" r="4.1"/>
<circle cx="1431.15" cy="353.04" r="4.1"/>
<circle cx="1440.91" cy="351.68" r="4.1"/>
<circle cx="1429.69" cy="342.23" r="4.1"/>
<circle cx="1431.81" cy="372.4" r="4.1"/>
<circle cx="1415.15" cy="356.81" r="4.1"/>
<circle cx="1430.53" cy="372.8" r="4.1"/>
<circle cx="1426.68" cy="353.08" r="4.1"/>
<circle cx="1428.54" cy="377.67" r="4.1"/>
<circle cx="1425.52" cy="385.95" r="4.1"/>
<circle cx="1428.91" cy="392.24" r="4.1"/>
<circle cx="1437.54" cy="352.32" r="4.1"/>
<circle cx="1434.57" cy="341.72" r="4.1"/>
<circle cx="1433.12" cy="338.01" r="4.1"/>
<circle cx="1442.63" cy="362.25" r="4.1"/>
<circle cx="1420.28" cy="360.33" r="4.1"/>
<circle cx="1429.45" cy="392.32" r="4.1"/>
<circle cx="1417.53" cy="376.89" r="4.1"/>
<circle cx="1423.06" cy="382.26" r="4.1"/>
<circle cx="1432.82" cy="389.95" r="4.1"/>
<circle cx="1437.52" cy="386.88" r="4.1"/>
<circle cx="1418.67" cy="351.83" r="4.1"/>
<circle cx="1432.27" cy="389.8" r="4.1"/>
<circle cx="1424.32" cy="373.53" r="4.1"/>
<circle cx="1429.54" cy="390.97" r="4.1"/>
<circle cx="1436.44" cy="388.95" r="4.1"/>
<circle cx="1411.42" cy="366.27" r="4.1"/>
<circle cx="1442.62" cy="350.41" r="4.1"/>
<circle cx="1425.9" cy="367.26" r="4.1"/>
<circle cx="1436.1" cy="373.07" r="4.1"/>
<circle cx="1439.57" cy="348.66" r="4.1"/>
<circle cx="1437.93" cy="345.12" r="4.1"/>
<circle cx="1440.28" cy="381.73" r="4.1"/>
<circle cx="1428.75" cy="390.24" r="4.1"/>
<circle cx="1450.46" cy="372.82" r="4.1"/>
<circle cx="1431.78" cy="347.35" r="4.1"/>
<circle cx="1432.4" cy="395.02" r="4.1"/>
<circle cx="1432.34" cy="364.99" r="4.1"/>
<circle cx="1440.47" cy="369.44" r="4.1"/>
<circle cx="1424.91" cy="338.71" r="4.1"/>
<circle cx="1446.86" cy="372.44" r="4.1"/>
<circle cx="1424.61" cy="341.86" r="4.1"/>
<circle cx="1434.53" cy="394.57" r="4.1"/>
<circle cx="1410.73" cy="370.67" r="4.1"/>
<circle cx="1436.06" cy="370.72" r="4.1"/>
<circle cx="1433.17" cy="356.01" r="4.1"/>
<circle cx="1429.86" cy="391.57" r="4.1"/>
<circle cx="1431.72" cy="384.21" r="4.1"/>
<circle cx="1433.44" cy="360.07" r="4.1"/>
<circle cx="1431.95" cy="339.75" r="4.1"/>
<circle cx="1442.55" cy="380" r="4.1"/>
<circle cx="1427.19" cy="386.88" r="4.1"/>
<circle cx="1431.33" cy="390.6" r="4.1"/>
<circle cx="1424.02" cy="373.88" r="4.1"/>
<circle cx="1438.82" cy="381.55" r="4.1"/>
<circle cx="1433.18" cy="352.11" r="4.1"/>
<circle cx="1433.92" cy="395.51" r="4.1"/>
<circle cx="1446.5" cy="359.37" r="4.1"/>
<circle cx="1433.19" cy="393.7" r="4.1"/>
<circle cx="1425.68" cy="378.14" r="4.1"/>
<circle cx="1422.91" cy="373.77" r="4.1"/>
<circle cx="1442.79" cy="339.02" r="4.1"/>
<circle cx="1432.28" cy="340.09" r="4.1"/>
<circle cx="1425.39" cy="364.28" r="4.1"/>
</g>
<line x1="1204" y1="189.6" x2="1214.5" y2="267.8" stroke="#e8112d" stroke-width="1.9"/>
<line x1="1346.8" y1="260.5" x2="1337" y2="286.7" stroke="#e8112d" stroke-width="1.9"/>
<circle cx="1379.4" cy="220.3" r="3.7" fill="#f01c30" stroke="#4a0a10" stroke-width="1"/>
<circle cx="1215.6" cy="271.6" r="3.7" fill="#f01c30" stroke="#4a0a10" stroke-width="1"/>
<circle cx="1336.3" cy="292.9" r="3.7" fill="#f01c30" stroke="#4a0a10" stroke-width="1"/>
<circle cx="1252.5" cy="317.8" r="3.7" fill="#f01c30" stroke="#4a0a10" stroke-width="1"/>
<circle cx="1387.4" cy="315.8" r="3.7" fill="#f01c30" stroke="#4a0a10" stroke-width="1"/>
<path d="M1180.5 90.5V396.3H1558.8" stroke="#000" stroke-width="1.8" fill="none" stroke-linejoin="miter"/>
<line x1="1180.7" y1="396.3" x2="1180.7" y2="402.8" stroke="#000" stroke-width="1.7"/>
<text x="1185.25" y="429.2" font-size="26.8" text-anchor="middle">10</text>
<line x1="1306.55" y1="396.3" x2="1306.55" y2="402.8" stroke="#000" stroke-width="1.7"/>
<text x="1311.1" y="429.2" font-size="26.8" text-anchor="middle">5</text>
<line x1="1432.4" y1="396.3" x2="1432.4" y2="402.8" stroke="#000" stroke-width="1.7"/>
<text x="1432.4" y="429.2" font-size="26.8" text-anchor="middle">0</text>
<line x1="1558.25" y1="396.3" x2="1558.25" y2="402.8" stroke="#000" stroke-width="1.7"/>
<text x="1558.25" y="429.2" font-size="26.8" text-anchor="middle">5</text>
<line x1="1174.5" y1="396.3" x2="1180.5" y2="396.3" stroke="#000" stroke-width="1.7"/>
<text x="1174.3" y="405.8" font-size="27.3" text-anchor="end">0</text>
<line x1="1174.5" y1="319.85" x2="1180.5" y2="319.85" stroke="#000" stroke-width="1.7"/>
<text x="1174.3" y="329.35" font-size="27.3" text-anchor="end">1</text>
<line x1="1174.5" y1="243.4" x2="1180.5" y2="243.4" stroke="#000" stroke-width="1.7"/>
<text x="1174.3" y="252.9" font-size="27.3" text-anchor="end">2</text>
<line x1="1174.5" y1="166.95" x2="1180.5" y2="166.95" stroke="#000" stroke-width="1.7"/>
<text x="1174.3" y="176.45" font-size="27.3" text-anchor="end">3</text>
<line x1="1174.5" y1="90.5" x2="1180.5" y2="90.5" stroke="#000" stroke-width="1.7"/>
<text x="1174.3" y="100" font-size="27.3" text-anchor="end">4</text>
<text x="1185.65" y="181.9" font-size="21.04">2-keto-4-methylthiobutyrate</text>
<text x="1215.16" y="216.8" font-size="20.91">5-methylthioadenosine</text>
<text x="1217.23" y="256" font-size="20.82">Methionine sulfoxide</text>
<text x="1167.96" y="308.9" font-size="20.83">S-adenosyl-L-methionine</text>
<text x="1183.93" y="343" font-size="20.92">L-methionine</text>
<text x="1232.66" y="463" font-size="20.55">Log<tspan font-size="14.38" dy="4.11">2</tspan><tspan dy="-4.11">(FC of 0 µM/100 µM)</tspan></text>
<text transform="translate(1142.2 292) rotate(-90)" font-size="20.67">-Log<tspan font-size="15.5" dy="4.13">10</tspan><tspan dy="-4.13"> (P) )</tspan></text>
<text x="115.04" y="568.5" font-size="21.11">CRC119 cells</text>
<text x="264.86" y="568.5" font-size="20.85">CRC240 cells</text>
<ellipse cx="216.1" cy="625.3" rx="55.3" ry="50.2" fill="#7ed9ab"/>
<ellipse cx="285.2" cy="625.3" rx="54" ry="50.2" fill="#ff7d7d"/>
<clipPath id="vc"><ellipse cx="216.1" cy="625.3" rx="55.3" ry="50.2"/></clipPath>
<ellipse cx="285.2" cy="625.3" rx="54" ry="50.2" fill="#869c6e" clip-path="url(#vc)"/>
<text x="200" y="632.3" font-size="19.8" text-anchor="middle">155</text>
<text x="250.5" y="632.3" font-size="19.8" text-anchor="middle">23</text>
<text x="290.3" y="632.3" font-size="19.8" text-anchor="middle">9</text>
<line x1="256.3" y1="657.2" x2="256.3" y2="702" stroke="#000" stroke-width="4"/>
<path d="M244.3 700.8H268.9L256.3 724.3Z" fill="#000"/>
<rect x="346.3" y="730.9" width="65.1" height="26.9" fill="#000"/>
<rect x="346.3" y="768.9" width="104.1" height="26.9" fill="#000"/>
<rect x="346.3" y="806.8" width="117.9" height="27.2" fill="#000"/>
<path d="M346.3 725.9V839.3H467.2" stroke="#000" stroke-width="2" fill="none" stroke-linejoin="miter"/>
<line x1="342.3" y1="744.2" x2="346.3" y2="744.2" stroke="#000" stroke-width="1.8"/>
<line x1="342.3" y1="782.2" x2="346.3" y2="782.2" stroke="#000" stroke-width="1.8"/>
<line x1="342.3" y1="820.3" x2="346.3" y2="820.3" stroke="#000" stroke-width="1.8"/>
<line x1="346.3" y1="839" x2="346.3" y2="844.5" stroke="#000" stroke-width="1.8"/>
<text font-size="21.5" transform="translate(353.9 890.36) rotate(-90)">0.00</text>
<line x1="376.2" y1="839" x2="376.2" y2="844.5" stroke="#000" stroke-width="1.8"/>
<text font-size="21.67" transform="translate(383.8 890.37) rotate(-90)">0.02</text>
<line x1="406.1" y1="839" x2="406.1" y2="844.5" stroke="#000" stroke-width="1.8"/>
<text font-size="21.44" transform="translate(413.7 890.36) rotate(-90)">0.04</text>
<line x1="436" y1="839" x2="436" y2="844.5" stroke="#000" stroke-width="1.8"/>
<text font-size="21.55" transform="translate(443.6 890.36) rotate(-90)">0.06</text>
<line x1="466.2" y1="839" x2="466.2" y2="844.5" stroke="#000" stroke-width="1.8"/>
<text font-size="21.55" transform="translate(473.8 890.36) rotate(-90)">0.08</text>
<text x="338.84" y="911.9" font-size="20.75">Pathway Impact</text>
<text x="39.26" y="749.9" font-size="20.85">Glycerophospholipid metabolism</text>
<text x="130.63" y="787.2" font-size="20.88">Pyrimidine metabolism</text>
<text x="-0.54" y="825.4" font-size="20.8">Cysteine and methionine metabolism</text>
<text x="573.33" y="541.8" font-size="25.43">Cysteine and methionine metabolism</text>
<rect x="640.3" y="709.81" width="7.4" height="4.69" fill="#fff" stroke="#000" stroke-width="2.3"/>
<rect x="653.7" y="686.74" width="7.4" height="27.76" fill="#0a2ef5" stroke="#000" stroke-width="2.3"/>
<rect x="687.9" y="707.29" width="7.4" height="7.21" fill="#0a2ef5" stroke="#000" stroke-width="2.3"/>
<rect x="742.9" y="667.63" width="7.4" height="46.87" fill="#fff" stroke="#000" stroke-width="2.3"/>
<rect x="756.3" y="646" width="7.4" height="68.5" fill="#0a2ef5" stroke="#000" stroke-width="2.3"/>
<rect x="777.1" y="701.52" width="7.4" height="12.98" fill="#fff" stroke="#000" stroke-width="2.3"/>
<rect x="790.5" y="687.1" width="7.4" height="27.4" fill="#0a2ef5" stroke="#000" stroke-width="2.3"/>
<rect x="845.5" y="687.82" width="7.4" height="26.68" fill="#fff" stroke="#000" stroke-width="2.3"/>
<rect x="858.9" y="686.02" width="7.4" height="28.48" fill="#0a2ef5" stroke="#000" stroke-width="2.3"/>
<rect x="879.7" y="682.05" width="7.4" height="32.45" fill="#fff" stroke="#000" stroke-width="2.3"/>
<rect x="893.1" y="685.3" width="7.4" height="29.2" fill="#0a2ef5" stroke="#000" stroke-width="2.3"/>
<rect x="927.3" y="703.32" width="7.4" height="11.18" fill="#0a2ef5" stroke="#000" stroke-width="2.3"/>
<rect x="948.1" y="703.32" width="7.4" height="11.18" fill="#fff" stroke="#000" stroke-width="2.3"/>
<rect x="961.5" y="679.53" width="7.4" height="34.97" fill="#0a2ef5" stroke="#000" stroke-width="2.3"/>
<line x1="607.6" y1="678.7" x2="972.5" y2="678.7" stroke="#ee1a3e" stroke-width="2.7" stroke-dasharray="7 3.2"/>
<path d="M657.4 662.23V713.78M653.65 662.23H661.15M653.65 713.78H661.15" stroke="#000" stroke-width="2.3" fill="none"/>
<path d="M746.6 663.31V671.96M742.85 663.31H750.35M742.85 671.96H750.35" stroke="#000" stroke-width="2.3" fill="none"/>
<path d="M760 573.9V714.5M756.25 573.9H763.75M756.25 714.5H763.75" stroke="#000" stroke-width="2.3" fill="none"/>
<path d="M780.8 696.48V705.85M777.05 696.48H784.55M777.05 705.85H784.55" stroke="#000" stroke-width="2.3" fill="none"/>
<path d="M794.2 678.45V695.75M790.45 678.45H797.95M790.45 695.75H797.95" stroke="#000" stroke-width="2.3" fill="none"/>
<path d="M862.6 681.33V685.66M858.85 681.33H866.35M858.85 685.66H866.35" stroke="#000" stroke-width="2.3" fill="none"/>
<path d="M931 700.08V706.57M927.25 700.08H934.75M927.25 706.57H934.75" stroke="#000" stroke-width="2.3" fill="none"/>
<path d="M951.8 693.59V713.06M948.05 693.59H955.55M948.05 713.06H955.55" stroke="#000" stroke-width="2.3" fill="none"/>
<path d="M965.2 668.72V690.35M961.45 668.72H968.95M961.45 690.35H968.95" stroke="#000" stroke-width="2.3" fill="none"/>
<g fill="#000">
<circle cx="608.5" cy="714.5" r="2.9"/>
<circle cx="609.8" cy="714.5" r="2.9"/>
<circle cx="611.1" cy="714.5" r="2.9"/>
<circle cx="621.9" cy="714.5" r="2.9"/>
<circle cx="623.2" cy="714.5" r="2.9"/>
<circle cx="624.5" cy="714.5" r="2.9"/>
<circle cx="641.6" cy="708.73" r="2.9"/>
<circle cx="644" cy="708.37" r="2.9"/>
<circle cx="646.4" cy="708.73" r="2.9"/>
<circle cx="657.4" cy="659.34" r="2.9"/>
<circle cx="657.4" cy="662.59" r="2.9"/>
<circle cx="653.9" cy="700.8" r="2.9"/>
<circle cx="661.9" cy="700.8" r="2.9"/>
<circle cx="676.9" cy="714.5" r="2.9"/>
<circle cx="678.2" cy="714.5" r="2.9"/>
<circle cx="679.5" cy="714.5" r="2.9"/>
<circle cx="689.2" cy="705.85" r="2.9"/>
<circle cx="691.6" cy="705.49" r="2.9"/>
<circle cx="694" cy="705.85" r="2.9"/>
<circle cx="711.1" cy="714.5" r="2.9"/>
<circle cx="712.4" cy="714.5" r="2.9"/>
<circle cx="713.7" cy="714.5" r="2.9"/>
<circle cx="724.5" cy="714.5" r="2.9"/>
<circle cx="725.8" cy="714.5" r="2.9"/>
<circle cx="727.1" cy="714.5" r="2.9"/>
<circle cx="745.1" cy="664.03" r="2.9"/>
<circle cx="748.1" cy="664.75" r="2.9"/>
<circle cx="743.6" cy="671.24" r="2.9"/>
<circle cx="749.6" cy="671.96" r="2.9"/>
<circle cx="764.5" cy="683.5" r="2.9"/>
<circle cx="758" cy="693.23" r="2.9"/>
<circle cx="779.8" cy="696.48" r="2.9"/>
<circle cx="777.3" cy="701.52" r="2.9"/>
<circle cx="783.3" cy="702.6" r="2.9"/>
<circle cx="794.2" cy="677.73" r="2.9"/>
<circle cx="798.2" cy="688.54" r="2.9"/>
<circle cx="793.2" cy="689.99" r="2.9"/>
<circle cx="812.6" cy="712.7" r="2.9"/>
<circle cx="815" cy="712.34" r="2.9"/>
<circle cx="817.4" cy="712.7" r="2.9"/>
<circle cx="826" cy="711.62" r="2.9"/>
<circle cx="828.4" cy="710.17" r="2.9"/>
<circle cx="830.8" cy="711.98" r="2.9"/>
<circle cx="846.8" cy="687.1" r="2.9"/>
<circle cx="849.2" cy="685.66" r="2.9"/>
<circle cx="851.6" cy="687.46" r="2.9"/>
<circle cx="863.1" cy="681.33" r="2.9"/>
<circle cx="860.1" cy="684.94" r="2.9"/>
<circle cx="865.6" cy="685.66" r="2.9"/>
<circle cx="881" cy="682.05" r="2.9"/>
<circle cx="883.4" cy="680.97" r="2.9"/>
<circle cx="885.8" cy="682.42" r="2.9"/>
<circle cx="894.4" cy="684.58" r="2.9"/>
<circle cx="896.8" cy="683.86" r="2.9"/>
<circle cx="899.2" cy="684.94" r="2.9"/>
<circle cx="916.3" cy="714.5" r="2.9"/>
<circle cx="917.6" cy="714.5" r="2.9"/>
<circle cx="918.9" cy="714.5" r="2.9"/>
<circle cx="930.5" cy="699.36" r="2.9"/>
<circle cx="928" cy="702.24" r="2.9"/>
<circle cx="934" cy="703.32" r="2.9"/>
<circle cx="951.8" cy="693.59" r="2.9"/>
<circle cx="949.3" cy="704.41" r="2.9"/>
<circle cx="955.8" cy="707.29" r="2.9"/>
<circle cx="960.7" cy="671.24" r="2.9"/>
<circle cx="966.7" cy="674.85" r="2.9"/>
<circle cx="966.2" cy="689.26" r="2.9"/>
</g>
<path d="M600 569.1V714.5H973" stroke="#000" stroke-width="2.4" fill="none" stroke-linejoin="miter"/>
<line x1="590.5" y1="714.5" x2="600" y2="714.5" stroke="#000" stroke-width="2.4"/>
<text x="588" y="722.2" font-size="21.3" text-anchor="end">0</text>
<line x1="590.5" y1="678.45" x2="600" y2="678.45" stroke="#000" stroke-width="2.4"/>
<text x="588" y="686.15" font-size="21.3" text-anchor="end">1</text>
<line x1="590.5" y1="642.4" x2="600" y2="642.4" stroke="#000" stroke-width="2.4"/>
<text x="588" y="650.1" font-size="21.3" text-anchor="end">2</text>
<line x1="590.5" y1="606.35" x2="600" y2="606.35" stroke="#000" stroke-width="2.4"/>
<text x="588" y="614.05" font-size="21.3" text-anchor="end">3</text>
<line x1="590.5" y1="570.3" x2="600" y2="570.3" stroke="#000" stroke-width="2.4"/>
<text x="588" y="578" font-size="21.3" text-anchor="end">4</text>
<line x1="616.4" y1="714.5" x2="616.4" y2="723.8" stroke="#000" stroke-width="2.5"/>
<line x1="650.6" y1="714.5" x2="650.6" y2="723.8" stroke="#000" stroke-width="2.5"/>
<line x1="684.8" y1="714.5" x2="684.8" y2="723.8" stroke="#000" stroke-width="2.5"/>
<line x1="719" y1="714.5" x2="719" y2="723.8" stroke="#000" stroke-width="2.5"/>
<line x1="753.2" y1="714.5" x2="753.2" y2="723.8" stroke="#000" stroke-width="2.5"/>
<line x1="787.4" y1="714.5" x2="787.4" y2="723.8" stroke="#000" stroke-width="2.5"/>
<line x1="821.6" y1="714.5" x2="821.6" y2="723.8" stroke="#000" stroke-width="2.5"/>
<line x1="855.8" y1="714.5" x2="855.8" y2="723.8" stroke="#000" stroke-width="2.5"/>
<line x1="890" y1="714.5" x2="890" y2="723.8" stroke="#000" stroke-width="2.5"/>
<line x1="924.2" y1="714.5" x2="924.2" y2="723.8" stroke="#000" stroke-width="2.5"/>
<line x1="958.4" y1="714.5" x2="958.4" y2="723.8" stroke="#000" stroke-width="2.5"/>
<text font-size="21.3" text-anchor="end" transform="translate(633.2 735.7) rotate(-45)">L-methionine</text>
<text font-size="21.7" text-anchor="end" transform="translate(667.4 735.7) rotate(-45)">L-homocysteine</text>
<text font-size="21.9" text-anchor="end" transform="translate(701.6 735.7) rotate(-45)">5-Methylthioadenosine</text>
<text font-size="21.75" text-anchor="end" transform="translate(735.8 735.7) rotate(-45)">2-keto-4-methylthiobutyrate</text>
<text font-size="21.1" text-anchor="end" transform="translate(770 735.7) rotate(-45)">Thiosulfate</text>
<text font-size="21.5" text-anchor="end" transform="translate(804.2 735.7) rotate(-45)">N-Acetylmethionine</text>
<text font-size="21.5" text-anchor="end" transform="translate(838.4 735.7) rotate(-45)">Methionine sulfoxide</text>
<text font-size="21.9" text-anchor="end" transform="translate(872.6 735.7) rotate(-45)">Hypotaurine</text>
<text font-size="22.1" text-anchor="end" transform="translate(906.8 735.7) rotate(-45)">Taurine</text>
<text font-size="21.9" text-anchor="end" transform="translate(941 735.7) rotate(-45)">S-Adenosyl-L-methionine</text>
<text font-size="22.4" text-anchor="end" transform="translate(975.2 735.7) rotate(-45)">S-Adenosyl-L-homocysteine</text>
<text font-size="20.4" transform="translate(536.6 712.53) rotate(-90)" letter-spacing="-0.72">FC of intensity</text>
<text font-size="20.4" transform="translate(561.5 714.72) rotate(-90)" letter-spacing="-0.51">(0 µM/100 µM)</text>
<text x="606.05" y="710.44" font-size="18.14" fill="#ee1a3e" font-weight="bold">*</text>
<text x="619.85" y="710.44" font-size="18.14" fill="#ee1a3e" font-weight="bold">*</text>
<text x="641.35" y="704.94" font-size="18.14" fill="#ee1a3e" font-weight="bold">*</text>
<text x="675.25" y="711.94" font-size="18.14" fill="#ee1a3e" font-weight="bold">*</text>
<text x="687.35" y="705.44" font-size="18.14" fill="#ee1a3e" font-weight="bold">*</text>
<text x="708.85" y="710.44" font-size="18.14" fill="#ee1a3e" font-weight="bold">*</text>
<text x="721.85" y="712.94" font-size="18.14" fill="#ee1a3e" font-weight="bold">*</text>
<text x="742.85" y="660.94" font-size="18.14" fill="#ee1a3e" font-weight="bold">*</text>
<text x="776.95" y="696.44" font-size="18.14" fill="#ee1a3e" font-weight="bold">*</text>
<text x="811.65" y="708.94" font-size="18.14" fill="#ee1a3e" font-weight="bold">*</text>
<text x="824.35" y="705.44" font-size="18.14" fill="#ee1a3e" font-weight="bold">*</text>
<text x="845.55" y="677.44" font-size="18.14" fill="#ee1a3e" font-weight="bold">*</text>
<text x="879.95" y="681.44" font-size="18.14" fill="#ee1a3e" font-weight="bold">*</text>
<text x="892.35" y="677.44" font-size="18.14" fill="#ee1a3e" font-weight="bold">*</text>
<text x="914.15" y="708.94" font-size="18.14" fill="#ee1a3e" font-weight="bold">*</text>
<text x="926.85" y="697.44" font-size="18.14" fill="#ee1a3e" font-weight="bold">*</text>
<text x="947.35" y="696.94" font-size="18.14" fill="#ee1a3e" font-weight="bold">*</text>
<text x="1125.35" y="541.8" font-size="25.65">Pyrimidine metabolism</text>
<rect x="1141.4" y="667.27" width="17" height="49.13" fill="#fff" stroke="#000" stroke-width="2.4"/>
<rect x="1167.4" y="674.67" width="17" height="41.73" fill="#0a2ef5" stroke="#000" stroke-width="2.4"/>
<rect x="1210.2" y="710.68" width="17" height="5.72" fill="#fff" stroke="#000" stroke-width="2.4"/>
<rect x="1236.2" y="684.77" width="17" height="31.63" fill="#0a2ef5" stroke="#000" stroke-width="2.4"/>
<rect x="1305" y="684.43" width="17" height="31.97" fill="#0a2ef5" stroke="#000" stroke-width="2.4"/>
<rect x="1347.8" y="659.53" width="17" height="56.87" fill="#fff" stroke="#000" stroke-width="2.4"/>
<rect x="1373.8" y="676.36" width="17" height="40.04" fill="#0a2ef5" stroke="#000" stroke-width="2.4"/>
<line x1="1121.5" y1="649.1" x2="1393.5" y2="649.1" stroke="#ee1a3e" stroke-width="2.7" stroke-dasharray="7 3.2"/>
<path d="M1149.9 663.23V671.98M1143.9 663.23H1155.9M1143.9 671.98H1155.9" stroke="#000" stroke-width="2.4" fill="none"/>
<path d="M1244.7 669.96V700.25M1238.7 669.96H1250.7M1238.7 700.25H1250.7" stroke="#000" stroke-width="2.4" fill="none"/>
<path d="M1356.3 655.83V663.23M1350.3 655.83H1362.3M1350.3 663.23H1362.3" stroke="#000" stroke-width="2.4" fill="none"/>
<path d="M1382.3 669.96V683.42M1376.3 669.96H1388.3M1376.3 683.42H1388.3" stroke="#000" stroke-width="2.4" fill="none"/>
<g fill="#000">
<circle cx="1149.9" cy="662.56" r="3.2"/>
<circle cx="1145.4" cy="669.96" r="3.2"/>
<circle cx="1154.9" cy="669.29" r="3.2"/>
<circle cx="1149.9" cy="671.31" r="3.2"/>
<circle cx="1173.9" cy="672.65" r="3.2"/>
<circle cx="1179.4" cy="673.33" r="3.2"/>
<circle cx="1175.9" cy="676.02" r="3.2"/>
<circle cx="1214.7" cy="709.67" r="3.2"/>
<circle cx="1218.7" cy="709.67" r="3.2"/>
<circle cx="1223.2" cy="710.34" r="3.2"/>
<circle cx="1244.7" cy="669.29" r="3.2"/>
<circle cx="1239.7" cy="692.85" r="3.2"/>
<circle cx="1250.2" cy="692.85" r="3.2"/>
<circle cx="1283.5" cy="714.38" r="3.2"/>
<circle cx="1287.5" cy="714.04" r="3.2"/>
<circle cx="1292" cy="714.38" r="3.2"/>
<circle cx="1310" cy="683.76" r="3.2"/>
<circle cx="1314" cy="683.42" r="3.2"/>
<circle cx="1317.5" cy="683.76" r="3.2"/>
<circle cx="1352.8" cy="655.83" r="3.2"/>
<circle cx="1359.8" cy="657.18" r="3.2"/>
<circle cx="1356.3" cy="662.56" r="3.2"/>
<circle cx="1378.3" cy="671.98" r="3.2"/>
<circle cx="1386.8" cy="673.33" r="3.2"/>
<circle cx="1382.3" cy="683.42" r="3.2"/>
</g>
<path d="M1128.5 579.8V716.4H1402.5" stroke="#000" stroke-width="2.6" fill="none" stroke-linejoin="miter"/>
<line x1="1119" y1="716.4" x2="1128.5" y2="716.4" stroke="#000" stroke-width="2.4"/>
<text x="1117.8" y="724.9" font-size="21.3" text-anchor="end">0.0</text>
<line x1="1119" y1="682.4" x2="1128.5" y2="682.4" stroke="#000" stroke-width="2.4"/>
<text x="1117.8" y="690.9" font-size="21.3" text-anchor="end">0.5</text>
<line x1="1119" y1="648.4" x2="1128.5" y2="648.4" stroke="#000" stroke-width="2.4"/>
<text x="1117.8" y="656.9" font-size="21.3" text-anchor="end">1.0</text>
<line x1="1119" y1="614.4" x2="1128.5" y2="614.4" stroke="#000" stroke-width="2.4"/>
<text x="1117.8" y="622.9" font-size="21.3" text-anchor="end">1.5</text>
<line x1="1119" y1="580.4" x2="1128.5" y2="580.4" stroke="#000" stroke-width="2.4"/>
<text x="1117.8" y="588.9" font-size="21.3" text-anchor="end">2.0</text>
<line x1="1162" y1="716.4" x2="1162" y2="725.7" stroke="#000" stroke-width="2.5"/>
<line x1="1230.8" y1="716.4" x2="1230.8" y2="725.7" stroke="#000" stroke-width="2.5"/>
<line x1="1299.6" y1="716.4" x2="1299.6" y2="725.7" stroke="#000" stroke-width="2.5"/>
<line x1="1368.4" y1="716.4" x2="1368.4" y2="725.7" stroke="#000" stroke-width="2.5"/>
<text font-size="21" text-anchor="end" transform="translate(1167.2 741) rotate(-45)">UTP</text>
<text font-size="22.1" text-anchor="end" transform="translate(1236 741) rotate(-45)">(S)-dihydroorotate</text>
<text font-size="22.5" text-anchor="end" transform="translate(1304.8 741) rotate(-45)">N-Carbamoyl-L-aspartate</text>
<text font-size="20.4" text-anchor="end" transform="translate(1373.6 741) rotate(-45)">dTTP</text>
<text font-size="20.4" transform="translate(1052.5 719.23) rotate(-90)" letter-spacing="-0.79">FC of intensity</text>
<text font-size="20.4" transform="translate(1077.4 721.42) rotate(-90)" letter-spacing="-0.53">(0 µM/100 µM)</text>
<rect x="1266.8" y="572.6" width="20.4" height="19.4" fill="#000"/>
<rect x="1266.8" y="595.6" width="18.7" height="15.7" fill="#1616ff"/>
<text x="1293.24" y="590" font-size="21.2" word-spacing="-0.85">CRC119 cells</text>
<text x="1293.24" y="614.3" font-size="21.2" word-spacing="-2.44">CRC240 cells</text>
<text x="1146.25" y="647.44" font-size="18.14" fill="#ee1a3e" font-weight="bold">*</text>
<text x="1172.25" y="647.44" font-size="18.14" fill="#ee1a3e" font-weight="bold">*</text>
<text x="1240.45" y="668.14" font-size="18.14" fill="#ee1a3e" font-weight="bold">*</text>
<text x="1214.45" y="706.64" font-size="18.14" fill="#ee1a3e" font-weight="bold">*</text>
<text x="1283.55" y="713.94" font-size="18.14" fill="#ee1a3e" font-weight="bold">*</text>
<text x="1308.95" y="680.04" font-size="18.14" fill="#ee1a3e" font-weight="bold">*</text>
<text x="1350.95" y="647.44" font-size="18.14" fill="#ee1a3e" font-weight="bold">*</text>
<text x="1377.45" y="668.14" font-size="18.14" fill="#ee1a3e" font-weight="bold">*</text>
<text x="1714.5" y="526.5" font-size="25.38">Amino acids</text>
<rect x="1550.02" y="729.35" width="7.2" height="19.45" fill="#fff" stroke="#000" stroke-width="2.2"/>
<rect x="1561.72" y="721.01" width="7.2" height="27.79" fill="#0a2ef5" stroke="#000" stroke-width="2.2"/>
<rect x="1579.63" y="594.37" width="7.2" height="154.43" fill="#fff" stroke="#000" stroke-width="2.2"/>
<rect x="1591.33" y="713.47" width="7.2" height="35.33" fill="#0a2ef5" stroke="#000" stroke-width="2.2"/>
<rect x="1609.25" y="690.84" width="7.2" height="57.96" fill="#fff" stroke="#000" stroke-width="2.2"/>
<rect x="1620.95" y="702.75" width="7.2" height="46.05" fill="#0a2ef5" stroke="#000" stroke-width="2.2"/>
<rect x="1638.86" y="699.57" width="7.2" height="49.23" fill="#fff" stroke="#000" stroke-width="2.2"/>
<rect x="1650.56" y="715.45" width="7.2" height="33.35" fill="#0a2ef5" stroke="#000" stroke-width="2.2"/>
<rect x="1668.48" y="707.91" width="7.2" height="40.89" fill="#fff" stroke="#000" stroke-width="2.2"/>
<rect x="1680.18" y="718.63" width="7.2" height="30.17" fill="#0a2ef5" stroke="#000" stroke-width="2.2"/>
<rect x="1698.09" y="722.6" width="7.2" height="26.2" fill="#fff" stroke="#000" stroke-width="2.2"/>
<rect x="1709.79" y="715.45" width="7.2" height="33.35" fill="#0a2ef5" stroke="#000" stroke-width="2.2"/>
<rect x="1727.71" y="707.12" width="7.2" height="41.68" fill="#fff" stroke="#000" stroke-width="2.2"/>
<rect x="1739.41" y="713.47" width="7.2" height="35.33" fill="#0a2ef5" stroke="#000" stroke-width="2.2"/>
<rect x="1757.32" y="714.06" width="7.2" height="34.74" fill="#fff" stroke="#000" stroke-width="2.2"/>
<rect x="1769.02" y="707.91" width="7.2" height="40.89" fill="#0a2ef5" stroke="#000" stroke-width="2.2"/>
<rect x="1786.94" y="713.47" width="7.2" height="35.33" fill="#fff" stroke="#000" stroke-width="2.2"/>
<rect x="1798.64" y="713.47" width="7.2" height="35.33" fill="#0a2ef5" stroke="#000" stroke-width="2.2"/>
<rect x="1816.55" y="699.57" width="7.2" height="49.23" fill="#fff" stroke="#000" stroke-width="2.2"/>
<rect x="1828.25" y="716.64" width="7.2" height="32.16" fill="#0a2ef5" stroke="#000" stroke-width="2.2"/>
<rect x="1846.17" y="714.46" width="7.2" height="34.34" fill="#fff" stroke="#000" stroke-width="2.2"/>
<rect x="1857.87" y="713.47" width="7.2" height="35.33" fill="#0a2ef5" stroke="#000" stroke-width="2.2"/>
<rect x="1875.78" y="725.38" width="7.2" height="23.42" fill="#fff" stroke="#000" stroke-width="2.2"/>
<rect x="1887.48" y="726.17" width="7.2" height="22.63" fill="#0a2ef5" stroke="#000" stroke-width="2.2"/>
<rect x="1905.4" y="712.28" width="7.2" height="36.52" fill="#fff" stroke="#000" stroke-width="2.2"/>
<rect x="1917.1" y="712.28" width="7.2" height="36.52" fill="#0a2ef5" stroke="#000" stroke-width="2.2"/>
<rect x="1935.01" y="712.28" width="7.2" height="36.52" fill="#fff" stroke="#000" stroke-width="2.2"/>
<rect x="1946.71" y="715.45" width="7.2" height="33.35" fill="#0a2ef5" stroke="#000" stroke-width="2.2"/>
<rect x="1964.62" y="709.1" width="7.2" height="39.7" fill="#fff" stroke="#000" stroke-width="2.2"/>
<rect x="1976.33" y="710.29" width="7.2" height="38.51" fill="#0a2ef5" stroke="#000" stroke-width="2.2"/>
<rect x="1994.24" y="718.63" width="7.2" height="30.17" fill="#fff" stroke="#000" stroke-width="2.2"/>
<rect x="2005.94" y="712.28" width="7.2" height="36.52" fill="#0a2ef5" stroke="#000" stroke-width="2.2"/>
<rect x="2023.86" y="714.46" width="7.2" height="34.34" fill="#fff" stroke="#000" stroke-width="2.2"/>
<rect x="2035.56" y="718.23" width="7.2" height="30.57" fill="#0a2ef5" stroke="#000" stroke-width="2.2"/>
<rect x="2053.47" y="721.8" width="7.2" height="27" fill="#fff" stroke="#000" stroke-width="2.2"/>
<rect x="2065.17" y="713.47" width="7.2" height="35.33" fill="#0a2ef5" stroke="#000" stroke-width="2.2"/>
<line x1="1516" y1="708.9" x2="2071" y2="708.9" stroke="#ee1a3e" stroke-width="2.7" stroke-dasharray="7 3.2"/>
<path d="M1565.32 707.12V732.92M1562.07 707.12H1568.57M1562.07 732.92H1568.57" stroke="#000" stroke-width="2.2" fill="none"/>
<path d="M1583.23 584.04V595.95M1579.98 584.04H1586.48M1579.98 595.95H1586.48" stroke="#000" stroke-width="2.2" fill="none"/>
<path d="M1594.93 705.53V721.01M1591.68 705.53H1598.18M1591.68 721.01H1598.18" stroke="#000" stroke-width="2.2" fill="none"/>
<path d="M1654.16 702.75V724.98M1650.91 702.75H1657.41M1650.91 724.98H1657.41" stroke="#000" stroke-width="2.2" fill="none"/>
<path d="M1672.08 697.98V713.07M1668.83 697.98H1675.33M1668.83 713.07H1675.33" stroke="#000" stroke-width="2.2" fill="none"/>
<path d="M1683.78 703.94V728.95M1680.53 703.94H1687.03M1680.53 728.95H1687.03" stroke="#000" stroke-width="2.2" fill="none"/>
<path d="M1713.39 705.13V724.19M1710.14 705.13H1716.64M1710.14 724.19H1716.64" stroke="#000" stroke-width="2.2" fill="none"/>
<path d="M1743.01 704.73V721.8M1739.76 704.73H1746.26M1739.76 721.8H1746.26" stroke="#000" stroke-width="2.2" fill="none"/>
<path d="M1772.62 703.54V707.91M1769.37 703.54H1775.87M1769.37 707.91H1775.87" stroke="#000" stroke-width="2.2" fill="none"/>
<path d="M1802.24 704.34V721.01M1798.99 704.34H1805.49M1798.99 721.01H1805.49" stroke="#000" stroke-width="2.2" fill="none"/>
<path d="M1831.85 704.34V726.17M1828.6 704.34H1835.1M1828.6 726.17H1835.1" stroke="#000" stroke-width="2.2" fill="none"/>
<path d="M1891.08 701.56V740.07M1887.83 701.56H1894.33M1887.83 740.07H1894.33" stroke="#000" stroke-width="2.2" fill="none"/>
<path d="M1920.7 705.13V719.02M1917.45 705.13H1923.95M1917.45 719.02H1923.95" stroke="#000" stroke-width="2.2" fill="none"/>
<path d="M1950.31 706.72V724.98M1947.06 706.72H1953.56M1947.06 724.98H1953.56" stroke="#000" stroke-width="2.2" fill="none"/>
<path d="M2009.54 704.34V720.22M2006.29 704.34H2012.79M2006.29 720.22H2012.79" stroke="#000" stroke-width="2.2" fill="none"/>
<path d="M2039.16 705.53V724.19M2035.91 705.53H2042.41M2035.91 724.19H2042.41" stroke="#000" stroke-width="2.2" fill="none"/>
<path d="M2068.77 707.12V720.22M2065.52 707.12H2072.02M2065.52 720.22H2072.02" stroke="#000" stroke-width="2.2" fill="none"/>
<g fill="#000">
<circle cx="1550.12" cy="728.16" r="3.3"/>
<circle cx="1553.62" cy="727.76" r="3.3"/>
<circle cx="1557.12" cy="728.95" r="3.3"/>
<circle cx="1565.32" cy="707.12" r="3.3"/>
<circle cx="1563.32" cy="721.01" r="3.3"/>
<circle cx="1568.82" cy="720.22" r="3.3"/>
<circle cx="1583.23" cy="583.25" r="3.3"/>
<circle cx="1580.73" cy="591.98" r="3.3"/>
<circle cx="1586.73" cy="590.79" r="3.3"/>
<circle cx="1594.93" cy="705.53" r="3.3"/>
<circle cx="1593.43" cy="713.07" r="3.3"/>
<circle cx="1598.43" cy="711.08" r="3.3"/>
<circle cx="1609.35" cy="689.25" r="3.3"/>
<circle cx="1612.85" cy="689.25" r="3.3"/>
<circle cx="1616.35" cy="689.25" r="3.3"/>
<circle cx="1621.05" cy="700.37" r="3.3"/>
<circle cx="1624.55" cy="699.97" r="3.3"/>
<circle cx="1628.05" cy="700.37" r="3.3"/>
<circle cx="1638.96" cy="696" r="3.3"/>
<circle cx="1642.46" cy="697.19" r="3.3"/>
<circle cx="1645.96" cy="699.17" r="3.3"/>
<circle cx="1654.16" cy="702.75" r="3.3"/>
<circle cx="1651.66" cy="715.45" r="3.3"/>
<circle cx="1658.16" cy="715.85" r="3.3"/>
<circle cx="1672.08" cy="697.98" r="3.3"/>
<circle cx="1669.58" cy="707.91" r="3.3"/>
<circle cx="1676.08" cy="707.51" r="3.3"/>
<circle cx="1671.08" cy="712.28" r="3.3"/>
<circle cx="1683.78" cy="703.94" r="3.3"/>
<circle cx="1681.78" cy="718.63" r="3.3"/>
<circle cx="1687.78" cy="719.02" r="3.3"/>
<circle cx="1698.19" cy="721.8" r="3.3"/>
<circle cx="1701.69" cy="721.41" r="3.3"/>
<circle cx="1705.19" cy="721.8" r="3.3"/>
<circle cx="1713.39" cy="705.13" r="3.3"/>
<circle cx="1711.89" cy="715.45" r="3.3"/>
<circle cx="1717.89" cy="714.66" r="3.3"/>
<circle cx="1727.81" cy="706.72" r="3.3"/>
<circle cx="1731.31" cy="706.32" r="3.3"/>
<circle cx="1734.81" cy="706.72" r="3.3"/>
<circle cx="1743.01" cy="704.73" r="3.3"/>
<circle cx="1741.51" cy="713.86" r="3.3"/>
<circle cx="1747.51" cy="713.07" r="3.3"/>
<circle cx="1756.92" cy="711.88" r="3.3"/>
<circle cx="1760.42" cy="713.07" r="3.3"/>
<circle cx="1763.92" cy="714.66" r="3.3"/>
<circle cx="1768.12" cy="703.54" r="3.3"/>
<circle cx="1772.62" cy="705.13" r="3.3"/>
<circle cx="1777.12" cy="707.91" r="3.3"/>
<circle cx="1787.04" cy="712.28" r="3.3"/>
<circle cx="1790.54" cy="713.07" r="3.3"/>
<circle cx="1794.04" cy="712.67" r="3.3"/>
<circle cx="1802.24" cy="704.34" r="3.3"/>
<circle cx="1800.24" cy="713.47" r="3.3"/>
<circle cx="1806.74" cy="713.47" r="3.3"/>
<circle cx="1816.65" cy="698.38" r="3.3"/>
<circle cx="1820.15" cy="697.98" r="3.3"/>
<circle cx="1823.65" cy="698.38" r="3.3"/>
<circle cx="1831.85" cy="704.34" r="3.3"/>
<circle cx="1829.35" cy="716.64" r="3.3"/>
<circle cx="1835.85" cy="716.64" r="3.3"/>
<circle cx="1845.77" cy="713.07" r="3.3"/>
<circle cx="1849.77" cy="714.26" r="3.3"/>
<circle cx="1853.27" cy="714.66" r="3.3"/>
<circle cx="1857.97" cy="711.88" r="3.3"/>
<circle cx="1861.47" cy="711.48" r="3.3"/>
<circle cx="1864.97" cy="712.28" r="3.3"/>
<circle cx="1874.88" cy="723.39" r="3.3"/>
<circle cx="1879.38" cy="724.98" r="3.3"/>
<circle cx="1882.88" cy="725.38" r="3.3"/>
<circle cx="1891.08" cy="701.56" r="3.3"/>
<circle cx="1888.58" cy="726.17" r="3.3"/>
<circle cx="1895.08" cy="726.57" r="3.3"/>
<circle cx="1905.5" cy="711.88" r="3.3"/>
<circle cx="1909" cy="711.48" r="3.3"/>
<circle cx="1912.5" cy="711.88" r="3.3"/>
<circle cx="1920.7" cy="705.13" r="3.3"/>
<circle cx="1918.2" cy="712.28" r="3.3"/>
<circle cx="1924.7" cy="711.88" r="3.3"/>
<circle cx="1935.11" cy="711.88" r="3.3"/>
<circle cx="1938.61" cy="711.48" r="3.3"/>
<circle cx="1942.11" cy="711.88" r="3.3"/>
<circle cx="1946.81" cy="706.72" r="3.3"/>
<circle cx="1951.31" cy="707.12" r="3.3"/>
<circle cx="1952.31" cy="715.45" r="3.3"/>
<circle cx="1964.22" cy="707.12" r="3.3"/>
<circle cx="1968.22" cy="708.31" r="3.3"/>
<circle cx="1972.22" cy="708.7" r="3.3"/>
<circle cx="1976.43" cy="708.7" r="3.3"/>
<circle cx="1979.93" cy="708.31" r="3.3"/>
<circle cx="1983.43" cy="709.1" r="3.3"/>
<circle cx="1994.34" cy="718.23" r="3.3"/>
<circle cx="1997.84" cy="717.83" r="3.3"/>
<circle cx="2001.34" cy="718.23" r="3.3"/>
<circle cx="2009.54" cy="704.34" r="3.3"/>
<circle cx="2007.04" cy="712.28" r="3.3"/>
<circle cx="2014.04" cy="711.88" r="3.3"/>
<circle cx="2023.95" cy="713.86" r="3.3"/>
<circle cx="2027.45" cy="713.47" r="3.3"/>
<circle cx="2030.95" cy="714.26" r="3.3"/>
<circle cx="2039.16" cy="705.53" r="3.3"/>
<circle cx="2036.66" cy="718.23" r="3.3"/>
<circle cx="2043.66" cy="717.83" r="3.3"/>
<circle cx="2053.07" cy="720.22" r="3.3"/>
<circle cx="2057.07" cy="721.41" r="3.3"/>
<circle cx="2060.57" cy="721.8" r="3.3"/>
<circle cx="2065.27" cy="707.12" r="3.3"/>
<circle cx="2070.27" cy="707.51" r="3.3"/>
<circle cx="2071.77" cy="713.47" r="3.3"/>
<circle cx="1519.7" cy="748.8" r="2.7"/>
<circle cx="1522.8" cy="748.8" r="2.7"/>
<circle cx="1525.9" cy="748.8" r="2.7"/>
<circle cx="1529" cy="748.8" r="2.7"/>
<circle cx="1532.1" cy="748.8" r="2.7"/>
<circle cx="1535.2" cy="748.8" r="2.7"/>
<circle cx="1538.3" cy="748.8" r="2.7"/>
</g>
<path d="M1514.8 549.5V748.8H2071" stroke="#000" stroke-width="2.6" fill="none" stroke-linejoin="miter"/>
<line x1="1505.8" y1="748.8" x2="1514.8" y2="748.8" stroke="#000" stroke-width="2.4"/>
<text x="1503.2" y="757.4" font-size="21.3" text-anchor="end">0</text>
<line x1="1505.8" y1="709.08" x2="1514.8" y2="709.08" stroke="#000" stroke-width="2.4"/>
<text x="1503.2" y="717.68" font-size="21.3" text-anchor="end">1</text>
<line x1="1505.8" y1="669.36" x2="1514.8" y2="669.36" stroke="#000" stroke-width="2.4"/>
<text x="1503.2" y="677.96" font-size="21.3" text-anchor="end">2</text>
<line x1="1505.8" y1="629.64" x2="1514.8" y2="629.64" stroke="#000" stroke-width="2.4"/>
<text x="1503.2" y="638.24" font-size="21.3" text-anchor="end">3</text>
<line x1="1505.8" y1="589.92" x2="1514.8" y2="589.92" stroke="#000" stroke-width="2.4"/>
<text x="1503.2" y="598.52" font-size="21.3" text-anchor="end">4</text>
<line x1="1505.8" y1="550.2" x2="1514.8" y2="550.2" stroke="#000" stroke-width="2.4"/>
<text x="1503.2" y="558.8" font-size="21.3" text-anchor="end">5</text>
<line x1="1528.7" y1="748.8" x2="1528.7" y2="758.1" stroke="#000" stroke-width="2.5"/>
<line x1="1558.32" y1="748.8" x2="1558.32" y2="758.1" stroke="#000" stroke-width="2.5"/>
<line x1="1587.93" y1="748.8" x2="1587.93" y2="758.1" stroke="#000" stroke-width="2.5"/>
<line x1="1617.55" y1="748.8" x2="1617.55" y2="758.1" stroke="#000" stroke-width="2.5"/>
<line x1="1647.16" y1="748.8" x2="1647.16" y2="758.1" stroke="#000" stroke-width="2.5"/>
<line x1="1676.78" y1="748.8" x2="1676.78" y2="758.1" stroke="#000" stroke-width="2.5"/>
<line x1="1706.39" y1="748.8" x2="1706.39" y2="758.1" stroke="#000" stroke-width="2.5"/>
<line x1="1736.01" y1="748.8" x2="1736.01" y2="758.1" stroke="#000" stroke-width="2.5"/>
<line x1="1765.62" y1="748.8" x2="1765.62" y2="758.1" stroke="#000" stroke-width="2.5"/>
<line x1="1795.24" y1="748.8" x2="1795.24" y2="758.1" stroke="#000" stroke-width="2.5"/>
<line x1="1824.85" y1="748.8" x2="1824.85" y2="758.1" stroke="#000" stroke-width="2.5"/>
<line x1="1854.47" y1="748.8" x2="1854.47" y2="758.1" stroke="#000" stroke-width="2.5"/>
<line x1="1884.08" y1="748.8" x2="1884.08" y2="758.1" stroke="#000" stroke-width="2.5"/>
<line x1="1913.7" y1="748.8" x2="1913.7" y2="758.1" stroke="#000" stroke-width="2.5"/>
<line x1="1943.31" y1="748.8" x2="1943.31" y2="758.1" stroke="#000" stroke-width="2.5"/>
<line x1="1972.92" y1="748.8" x2="1972.92" y2="758.1" stroke="#000" stroke-width="2.5"/>
<line x1="2002.54" y1="748.8" x2="2002.54" y2="758.1" stroke="#000" stroke-width="2.5"/>
<line x1="2032.15" y1="748.8" x2="2032.15" y2="758.1" stroke="#000" stroke-width="2.5"/>
<line x1="2061.77" y1="748.8" x2="2061.77" y2="758.1" stroke="#000" stroke-width="2.5"/>
<text font-size="21.3" text-anchor="end" transform="translate(1532.78 767.12) rotate(-45)" letter-spacing="0.12">L-methionine</text>
<text font-size="21.3" text-anchor="end" transform="translate(1562.63 766.88) rotate(-45)" letter-spacing="0.45">L-cysteine</text>
<text font-size="21.3" text-anchor="end" transform="translate(1592.25 766.88) rotate(-45)" letter-spacing="0.45">L-serine</text>
<text font-size="21.3" text-anchor="end" transform="translate(1621.86 766.88) rotate(-45)" letter-spacing="0.45">L-glycine</text>
<text font-size="21.3" text-anchor="end" transform="translate(1651.48 766.88) rotate(-45)" letter-spacing="0.45">L-phenylalanine</text>
<text font-size="21.3" text-anchor="end" transform="translate(1681.09 766.88) rotate(-45)" letter-spacing="0.45">L-tyrosine</text>
<text font-size="21.3" text-anchor="end" transform="translate(1710.71 766.88) rotate(-45)" letter-spacing="0.45">L-tryptophan</text>
<text font-size="21.3" text-anchor="end" transform="translate(1740.32 766.88) rotate(-45)" letter-spacing="0.45">L-valine</text>
<text font-size="21.3" text-anchor="end" transform="translate(1769.94 766.88) rotate(-45)" letter-spacing="0.45">L-proline</text>
<text font-size="21.3" text-anchor="end" transform="translate(1799.55 766.88) rotate(-45)" letter-spacing="0.45">L-isoleucine/L-leucine</text>
<text font-size="21.3" text-anchor="end" transform="translate(1829.17 766.88) rotate(-45)" letter-spacing="0.45">L-lysine</text>
<text font-size="21.3" text-anchor="end" transform="translate(1858.78 766.88) rotate(-45)" letter-spacing="0.45">L-alanine</text>
<text font-size="21.3" text-anchor="end" transform="translate(1888.4 766.88) rotate(-45)" letter-spacing="0.45">L-histidine</text>
<text font-size="21.3" text-anchor="end" transform="translate(1918.01 766.88) rotate(-45)" letter-spacing="0.45">L-threonine</text>
<text font-size="21.3" text-anchor="end" transform="translate(1947.63 766.88) rotate(-45)" letter-spacing="0.45">L-arginine</text>
<text font-size="21.3" text-anchor="end" transform="translate(1977.24 766.88) rotate(-45)" letter-spacing="0.45">L-aspartate</text>
<text font-size="21.3" text-anchor="end" transform="translate(2006.86 766.88) rotate(-45)" letter-spacing="0.45">L-asparagine</text>
<text font-size="21.3" text-anchor="end" transform="translate(2036.47 766.88) rotate(-45)" letter-spacing="0.45">L-glutamine</text>
<text font-size="21.3" text-anchor="end" transform="translate(2066.09 766.88) rotate(-45)" letter-spacing="0.45">L-glutamate</text>
<text font-size="20.4" transform="translate(1453.4 719.93) rotate(-90)" letter-spacing="-0.79">FC of intensity</text>
<text font-size="20.4" transform="translate(1478.3 722.12) rotate(-90)" letter-spacing="-0.46">(0 µM/100 µM)</text>
<rect x="1914.7" y="553.6" width="19.7" height="19.6" fill="#000"/>
<rect x="1914.7" y="577" width="17.6" height="15.2" fill="#1616ff"/>
<text x="1940.35" y="570" font-size="21.05" word-spacing="-0.45">CRC119 cells</text>
<text x="1940.35" y="593.9" font-size="21.05" word-spacing="-2.03">CRC240 cells</text>
<text x="1519.95" y="739.04" font-size="18.14" fill="#ee1a3e" font-weight="bold">*</text>
<text x="1531.35" y="741.24" font-size="18.14" fill="#ee1a3e" font-weight="bold">*</text>
<text x="1549.65" y="725.14" font-size="18.14" fill="#ee1a3e" font-weight="bold">*</text>
<text x="1609.15" y="682.34" font-size="18.14" fill="#ee1a3e" font-weight="bold">*</text>
<text x="1638.95" y="682.34" font-size="18.14" fill="#ee1a3e" font-weight="bold">*</text>
<text x="1697.85" y="704.24" font-size="18.14" fill="#ee1a3e" font-weight="bold">*</text>
<text x="1581.25" y="580.74" font-size="18.14" fill="#ee1a3e" font-weight="bold">*</text>
<text x="1756.95" y="706.44" font-size="18.14" fill="#ee1a3e" font-weight="bold">*</text>
<text x="1816.65" y="693.54" font-size="18.14" fill="#ee1a3e" font-weight="bold">*</text>
<text x="1845.45" y="706.44" font-size="18.14" fill="#ee1a3e" font-weight="bold">*</text>
<text x="1875.55" y="722.54" font-size="18.14" fill="#ee1a3e" font-weight="bold">*</text>
<text x="1905.15" y="700.64" font-size="18.14" fill="#ee1a3e" font-weight="bold">*</text>
<text x="1994.35" y="710.74" font-size="18.14" fill="#ee1a3e" font-weight="bold">*</text>
<text x="2023.75" y="704.24" font-size="18.14" fill="#ee1a3e" font-weight="bold">*</text>
<text x="2052.75" y="706.44" font-size="18.14" fill="#ee1a3e" font-weight="bold">*</text>
</svg>
</body>
</html>
